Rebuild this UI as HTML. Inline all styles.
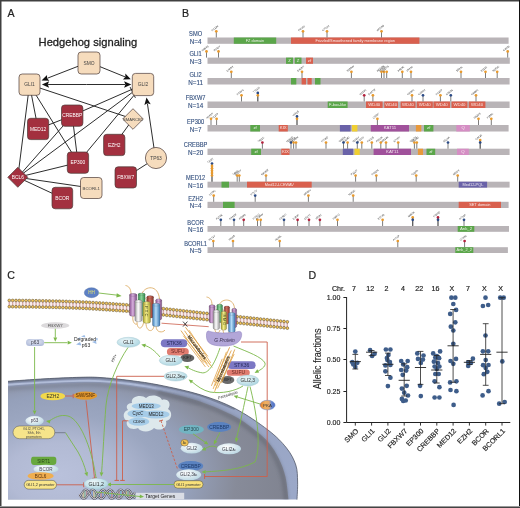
<!DOCTYPE html>
<html><head><meta charset="utf-8"><style>
html,body{margin:0;padding:0;background:#fff;}
body{width:520px;height:508px;overflow:hidden;position:relative;}
svg{position:absolute;left:0;top:0;display:block;font-family:"Liberation Sans", sans-serif;will-change:transform;}
</style></head><body>
<svg width="520" height="508" viewBox="0 0 520 508">
<rect x="0" y="0" width="520" height="508" fill="#fff"/>

<text x="7.4" y="16.6" font-size="10.6" fill="#222" stroke="#222" stroke-width="0.2">A</text>
<text x="182" y="16.9" font-size="10.6" fill="#222" stroke="#222" stroke-width="0.2">B</text>
<text x="7.2" y="278.8" font-size="10.6" fill="#222" stroke="#222" stroke-width="0.2">C</text>
<text x="308.6" y="278.6" font-size="10.6" fill="#222" stroke="#222" stroke-width="0.2">D</text>
<line x1="29.5" y1="84.6" x2="38.1" y2="129" stroke="#222" stroke-width="0.95"/>
<line x1="29.5" y1="84.6" x2="17.8" y2="177.3" stroke="#222" stroke-width="0.95"/>
<line x1="29.5" y1="84.6" x2="78" y2="162.6" stroke="#222" stroke-width="0.95"/>
<line x1="29.5" y1="84.6" x2="133" y2="119" stroke="#222" stroke-width="0.95"/>
<line x1="72.2" y1="115.6" x2="38.1" y2="129" stroke="#222" stroke-width="0.95"/>
<line x1="72.2" y1="115.6" x2="143" y2="84.5" stroke="#222" stroke-width="0.95"/>
<line x1="72.2" y1="115.6" x2="78" y2="162.6" stroke="#222" stroke-width="0.95"/>
<line x1="72.2" y1="115.6" x2="17.8" y2="177.3" stroke="#222" stroke-width="0.95"/>
<line x1="143" y1="84.5" x2="17.8" y2="177.3" stroke="#222" stroke-width="0.95"/>
<line x1="143" y1="84.5" x2="78" y2="162.6" stroke="#222" stroke-width="0.95"/>
<line x1="114.2" y1="145" x2="133" y2="119" stroke="#222" stroke-width="0.95"/>
<line x1="125.8" y1="177.4" x2="156" y2="158" stroke="#222" stroke-width="0.95"/>
<line x1="17.8" y1="177.3" x2="78" y2="162.6" stroke="#222" stroke-width="0.95"/>
<line x1="17.8" y1="177.3" x2="91.2" y2="188" stroke="#222" stroke-width="0.95"/>
<line x1="17.8" y1="177.3" x2="62.3" y2="198" stroke="#222" stroke-width="0.95"/>
<line x1="78" y1="66.3" x2="47.278131825961026" y2="78.25206926222886" stroke="#222" stroke-width="0.95"/>
<path d="M41.50,80.50 L47.05,74.91 L47.00,78.36 L49.37,80.87Z" fill="#111"/>
<line x1="99.6" y1="66.5" x2="125.05751307446026" y2="76.86251333479632" stroke="#222" stroke-width="0.95"/>
<path d="M130.80,79.20 L122.92,79.45 L125.34,76.98 L125.34,73.52Z" fill="#111"/>
<line x1="86.6" y1="84.5" x2="125.10000000000001" y2="84.5" stroke="#222" stroke-width="0.95"/>
<path d="M131.30,84.50 L124.10,87.70 L125.40,84.50 L124.10,81.30Z" fill="#111"/>
<line x1="86.6" y1="84.5" x2="48.1" y2="84.5" stroke="#222" stroke-width="0.95"/>
<path d="M41.90,84.50 L49.10,81.30 L47.80,84.50 L49.10,87.70Z" fill="#111"/>
<line x1="130.1" y1="87.1" x2="135.4" y2="97.8" stroke="#222" stroke-width="0.95"/>
<line x1="154" y1="148" x2="147.41080223627338" y2="103.63273505757418" stroke="#222" stroke-width="0.95"/>
<path d="M146.50,97.50 L150.72,104.15 L147.37,103.34 L144.39,105.09Z" fill="#111"/>
<rect x="78" y="52" width="22" height="22" rx="3.2" fill="#f6dcbd" stroke="#4a3a36" stroke-width="0.7"/>
<text x="89.0" y="64.75" font-size="4.9" fill="#444" text-anchor="middle" font-family="Liberation Sans, sans-serif">SMO</text>
<rect x="19" y="74" width="21" height="21.299999999999997" rx="3.2" fill="#f6dcbd" stroke="#4a3a36" stroke-width="0.7"/>
<text x="29.5" y="86.4" font-size="4.9" fill="#444" text-anchor="middle" font-family="Liberation Sans, sans-serif">GLI1</text>
<rect x="132.3" y="73.4" width="21.399999999999977" height="22.19999999999999" rx="3.2" fill="#f6dcbd" stroke="#4a3a36" stroke-width="0.7"/>
<text x="143.0" y="86.25" font-size="4.9" fill="#444" text-anchor="middle" font-family="Liberation Sans, sans-serif">GLI2</text>
<rect x="61.5" y="105" width="21.400000000000006" height="21.299999999999997" rx="3.2" fill="#a3303f" stroke="#4a3a36" stroke-width="0.7"/>
<text x="72.2" y="117.4" font-size="4.9" fill="#fff" text-anchor="middle" font-family="Liberation Sans, sans-serif">CREBBP</text>
<rect x="27.5" y="118.3" width="21.200000000000003" height="21.299999999999997" rx="3.2" fill="#a3303f" stroke="#4a3a36" stroke-width="0.7"/>
<text x="38.1" y="130.7" font-size="4.9" fill="#fff" text-anchor="middle" font-family="Liberation Sans, sans-serif">MED12</text>
<path d="M122.7,119 L133,108.7 L143.3,119 L133,129.3Z" fill="#f6dcbd" stroke="#4a3a36" stroke-width="0.7" stroke-linejoin="round"/>
<text x="133" y="120.75" font-size="4.2" fill="#444" text-anchor="middle" font-family="Liberation Sans, sans-serif">SMARCB1</text>
<rect x="103.6" y="134.3" width="21.30000000000001" height="21.299999999999983" rx="3.2" fill="#a3303f" stroke="#4a3a36" stroke-width="0.7"/>
<text x="114.25" y="146.7" font-size="4.9" fill="#fff" text-anchor="middle" font-family="Liberation Sans, sans-serif">EZH2</text>
<rect x="67.3" y="152" width="21.299999999999997" height="21.30000000000001" rx="3.2" fill="#a3303f" stroke="#4a3a36" stroke-width="0.7"/>
<text x="77.94999999999999" y="164.4" font-size="4.9" fill="#fff" text-anchor="middle" font-family="Liberation Sans, sans-serif">EP300</text>
<circle cx="156" cy="158" r="10.6" fill="#f6dcbd" stroke="#4a3a36" stroke-width="0.7"/>
<text x="156" y="159.7" font-size="4.9" fill="#444" text-anchor="middle">TP63</text>
<rect x="115" y="166.8" width="21.5" height="21.19999999999999" rx="3.2" fill="#a3303f" stroke="#4a3a36" stroke-width="0.7"/>
<text x="125.75" y="179.15" font-size="4.9" fill="#fff" text-anchor="middle" font-family="Liberation Sans, sans-serif">FBXW7</text>
<path d="M7.800000000000001,177.3 L17.8,167.3 L27.8,177.3 L17.8,187.3Z" fill="#a3303f" stroke="#4a3a36" stroke-width="0.7" stroke-linejoin="round"/>
<text x="17.8" y="179.05" font-size="4.9" fill="#fff" text-anchor="middle" font-family="Liberation Sans, sans-serif">BCL6</text>
<rect x="80.5" y="177.5" width="21.5" height="21.0" rx="3.2" fill="#f6dcbd" stroke="#4a3a36" stroke-width="0.7"/>
<text x="91.25" y="189.75" font-size="4.4" fill="#444" text-anchor="middle" font-family="Liberation Sans, sans-serif">BCORL1</text>
<rect x="52" y="187.3" width="20.700000000000003" height="21.5" rx="3.2" fill="#a3303f" stroke="#4a3a36" stroke-width="0.7"/>
<text x="62.35" y="199.8" font-size="4.9" fill="#fff" text-anchor="middle" font-family="Liberation Sans, sans-serif">BCOR</text>
<text x="38.6" y="45.9" font-size="11.2" fill="#222" stroke="#222" stroke-width="0.3" textLength="98.6" lengthAdjust="spacingAndGlyphs">Hedgehog signaling</text>
<text transform="translate(195.6,36.20) scale(0.88,1)" font-size="6.5" fill="#34507f" stroke="#34507f" stroke-width="0.12" text-anchor="middle">SMO</text>
<text x="195.6" y="43.90" font-size="6.3" fill="#34507f" stroke="#34507f" stroke-width="0.12" text-anchor="middle">N=4</text>
<rect x="207.5" y="37.5" width="301.10" height="6.30" fill="#b9b4b7"/>
<rect x="233.8" y="37.5" width="42.40" height="6.30" fill="#5ba64a"/>
<text x="255.00" y="41.85" font-size="3.9" fill="#f8f4f4" text-anchor="middle" opacity="0.92">FZ domain</text>
<rect x="291" y="37.5" width="128.40" height="6.30" fill="#d9604e"/>
<text x="355.20" y="41.85" font-size="3.9" fill="#f8f4f4" text-anchor="middle" opacity="0.92">Frizzled/Smoothened family membrane region</text>
<line x1="216.3" y1="31.30" x2="216.3" y2="37.5" stroke="#5a5a5a" stroke-width="0.8"/>
<circle cx="216.3" cy="31.30" r="1.35" fill="#e99a2c"/>
<text transform="translate(212.30,31.40) rotate(-38)" font-size="2.6" fill="#2a2a2a">R211N</text>
<line x1="303" y1="31.30" x2="303" y2="37.5" stroke="#5a5a5a" stroke-width="0.8"/>
<circle cx="303" cy="31.30" r="1.35" fill="#e99a2c"/>
<text transform="translate(299.00,31.40) rotate(-38)" font-size="2.6" fill="#2a2a2a">P439V</text>
<line x1="327" y1="31.30" x2="327" y2="37.5" stroke="#5a5a5a" stroke-width="0.8"/>
<circle cx="327" cy="31.30" r="1.35" fill="#e99a2c"/>
<text transform="translate(323.00,31.40) rotate(-38)" font-size="2.6" fill="#2a2a2a">C751H</text>
<line x1="381.5" y1="31.30" x2="381.5" y2="37.5" stroke="#5a5a5a" stroke-width="0.8"/>
<circle cx="381.5" cy="31.30" r="1.35" fill="#e99a2c"/>
<text transform="translate(377.50,31.40) rotate(-38)" font-size="2.6" fill="#2a2a2a">W559N</text>
<text transform="translate(195.6,56.30) scale(0.88,1)" font-size="6.5" fill="#34507f" stroke="#34507f" stroke-width="0.12" text-anchor="middle">GLI1</text>
<text x="195.6" y="63.90" font-size="6.3" fill="#34507f" stroke="#34507f" stroke-width="0.12" text-anchor="middle">N=3</text>
<rect x="207.5" y="57.6" width="302.30" height="6.20" fill="#b9b4b7"/>
<rect x="286" y="57.6" width="7.00" height="6.20" fill="#5ba64a"/>
<text x="289.50" y="61.90" font-size="4.3" fill="#f8f4f4" text-anchor="middle" opacity="0.92">Z</text>
<rect x="294.8" y="57.6" width="6.70" height="6.20" fill="#5ba64a"/>
<text x="298.15" y="61.90" font-size="4.3" fill="#f8f4f4" text-anchor="middle" opacity="0.92">Z</text>
<rect x="306" y="57.6" width="7.00" height="6.20" fill="#d9604e"/>
<text x="309.50" y="61.90" font-size="4.3" fill="#f8f4f4" text-anchor="middle" opacity="0.92">zf</text>
<line x1="206.5" y1="51.40" x2="206.5" y2="57.6" stroke="#5a5a5a" stroke-width="0.8"/>
<circle cx="206.5" cy="51.40" r="1.35" fill="#e99a2c"/>
<text transform="translate(202.50,51.50) rotate(-38)" font-size="2.6" fill="#2a2a2a">H984S</text>
<line x1="218.5" y1="51.40" x2="218.5" y2="57.6" stroke="#5a5a5a" stroke-width="0.8"/>
<circle cx="218.5" cy="51.40" r="1.35" fill="#e99a2c"/>
<text transform="translate(214.50,51.50) rotate(-38)" font-size="2.6" fill="#2a2a2a">P240Y</text>
<line x1="507.7" y1="51.40" x2="507.7" y2="57.6" stroke="#5a5a5a" stroke-width="0.8"/>
<circle cx="507.7" cy="51.40" r="1.35" fill="#e99a2c"/>
<text transform="translate(503.70,51.50) rotate(-38)" font-size="2.6" fill="#2a2a2a">C400E</text>
<text transform="translate(195.6,76.70) scale(0.88,1)" font-size="6.5" fill="#34507f" stroke="#34507f" stroke-width="0.12" text-anchor="middle">GLI2</text>
<text x="195.6" y="84.60" font-size="6.3" fill="#34507f" stroke="#34507f" stroke-width="0.12" text-anchor="middle">N=11</text>
<rect x="207.5" y="78" width="302.10" height="6.50" fill="#b9b4b7"/>
<rect x="291" y="78" width="5.30" height="6.50" fill="#5ba64a"/>
<rect x="301.6" y="78" width="4.40" height="6.50" fill="#d9604e"/>
<rect x="307.5" y="78" width="4.20" height="6.50" fill="#d9604e"/>
<rect x="315" y="78" width="5.50" height="6.50" fill="#5ba64a"/>
<line x1="231.3" y1="71.80" x2="231.3" y2="78" stroke="#5a5a5a" stroke-width="0.8"/>
<circle cx="231.3" cy="71.80" r="1.35" fill="#e99a2c"/>
<text transform="translate(227.30,71.90) rotate(-38)" font-size="2.6" fill="#2a2a2a">E406H</text>
<line x1="302" y1="71.80" x2="302" y2="78" stroke="#5a5a5a" stroke-width="0.8"/>
<circle cx="302" cy="71.80" r="1.35" fill="#e99a2c"/>
<text transform="translate(298.00,71.90) rotate(-38)" font-size="2.6" fill="#2a2a2a">D426R</text>
<line x1="351.4" y1="71.80" x2="351.4" y2="78" stroke="#5a5a5a" stroke-width="0.8"/>
<circle cx="351.4" cy="71.80" r="1.35" fill="#e99a2c"/>
<text transform="translate(347.40,71.90) rotate(-38)" font-size="2.6" fill="#2a2a2a">S168W</text>
<line x1="381.5" y1="71.80" x2="381.5" y2="78" stroke="#5a5a5a" stroke-width="0.8"/>
<circle cx="381.5" cy="71.80" r="1.35" fill="#e99a2c"/>
<text transform="translate(377.50,71.90) rotate(-38)" font-size="2.6" fill="#2a2a2a">W559N</text>
<line x1="384" y1="71.80" x2="384" y2="78" stroke="#5a5a5a" stroke-width="0.8"/>
<circle cx="384" cy="71.80" r="1.35" fill="#e99a2c"/>
<text transform="translate(380.00,71.90) rotate(-38)" font-size="2.6" fill="#2a2a2a">A592A</text>
<line x1="386.7" y1="71.80" x2="386.7" y2="78" stroke="#5a5a5a" stroke-width="0.8"/>
<circle cx="386.7" cy="71.80" r="1.35" fill="#e99a2c"/>
<text transform="translate(382.70,71.90) rotate(-38)" font-size="2.6" fill="#2a2a2a">D627N</text>
<line x1="402.3" y1="71.80" x2="402.3" y2="78" stroke="#5a5a5a" stroke-width="0.8"/>
<circle cx="402.3" cy="71.80" r="1.35" fill="#e99a2c"/>
<text transform="translate(398.30,71.90) rotate(-38)" font-size="2.6" fill="#2a2a2a">A829K</text>
<line x1="411" y1="71.80" x2="411" y2="78" stroke="#5a5a5a" stroke-width="0.8"/>
<circle cx="411" cy="71.80" r="1.35" fill="#e99a2c"/>
<text transform="translate(407.00,71.90) rotate(-38)" font-size="2.6" fill="#2a2a2a">V943C</text>
<line x1="461" y1="71.80" x2="461" y2="78" stroke="#5a5a5a" stroke-width="0.8"/>
<circle cx="461" cy="71.80" r="1.35" fill="#e99a2c"/>
<text transform="translate(457.00,71.90) rotate(-38)" font-size="2.6" fill="#2a2a2a">S693L</text>
<line x1="485.5" y1="71.80" x2="485.5" y2="78" stroke="#5a5a5a" stroke-width="0.8"/>
<circle cx="485.5" cy="71.80" r="1.35" fill="#e99a2c"/>
<text transform="translate(481.50,71.90) rotate(-38)" font-size="2.6" fill="#2a2a2a">K111A</text>
<line x1="497.2" y1="71.80" x2="497.2" y2="78" stroke="#5a5a5a" stroke-width="0.8"/>
<circle cx="497.2" cy="71.80" r="1.35" fill="#e99a2c"/>
<text transform="translate(493.20,71.90) rotate(-38)" font-size="2.6" fill="#2a2a2a">N263E</text>
<text transform="translate(195.6,100.20) scale(0.88,1)" font-size="6.5" fill="#34507f" stroke="#34507f" stroke-width="0.12" text-anchor="middle">FBXW7</text>
<text x="195.6" y="108.10" font-size="6.3" fill="#34507f" stroke="#34507f" stroke-width="0.12" text-anchor="middle">N=14</text>
<rect x="207.5" y="101.5" width="302.10" height="6.50" fill="#b9b4b7"/>
<rect x="327.7" y="101.5" width="19.90" height="6.50" fill="#5ba64a"/>
<text x="337.65" y="105.95" font-size="3.9" fill="#f8f4f4" text-anchor="middle" opacity="0.92">F-box-like</text>
<rect x="366" y="101.5" width="16.60" height="6.50" fill="#d9604e"/>
<text x="374.30" y="105.95" font-size="4.3" fill="#f8f4f4" text-anchor="middle" opacity="0.92">WD40</text>
<rect x="384.3" y="101.5" width="13.70" height="6.50" fill="#d9604e"/>
<text x="391.15" y="105.95" font-size="4.3" fill="#f8f4f4" text-anchor="middle" opacity="0.92">WD40</text>
<rect x="400.6" y="101.5" width="14.90" height="6.50" fill="#d9604e"/>
<text x="408.05" y="105.95" font-size="4.3" fill="#f8f4f4" text-anchor="middle" opacity="0.92">WD40</text>
<rect x="416.8" y="101.5" width="16.00" height="6.50" fill="#d9604e"/>
<text x="424.80" y="105.95" font-size="4.3" fill="#f8f4f4" text-anchor="middle" opacity="0.92">WD40</text>
<rect x="433.5" y="101.5" width="16.50" height="6.50" fill="#d9604e"/>
<text x="441.75" y="105.95" font-size="4.3" fill="#f8f4f4" text-anchor="middle" opacity="0.92">WD40</text>
<rect x="451.5" y="101.5" width="15.90" height="6.50" fill="#d9604e"/>
<text x="459.45" y="105.95" font-size="4.3" fill="#f8f4f4" text-anchor="middle" opacity="0.92">WD40</text>
<rect x="468.8" y="101.5" width="16.60" height="6.50" fill="#d9604e"/>
<text x="477.10" y="105.95" font-size="4.3" fill="#f8f4f4" text-anchor="middle" opacity="0.92">WD40</text>
<line x1="241.5" y1="95.30" x2="241.5" y2="101.5" stroke="#5a5a5a" stroke-width="0.8"/>
<circle cx="241.5" cy="95.30" r="1.35" fill="#e99a2c"/>
<text transform="translate(237.50,95.40) rotate(-38)" font-size="2.6" fill="#2a2a2a">R539G</text>
<line x1="257.8" y1="92.90" x2="257.8" y2="101.5" stroke="#5a5a5a" stroke-width="1.3"/>
<circle cx="257.8" cy="92.90" r="1.35" fill="#2a4a86"/>
<circle cx="257.8" cy="95.30" r="1.35" fill="#e99a2c"/>
<text transform="translate(253.80,93.00) rotate(-38)" font-size="2.6" fill="#2a2a2a">T751H</text>
<line x1="364.2" y1="95.30" x2="364.2" y2="101.5" stroke="#5a5a5a" stroke-width="0.8"/>
<circle cx="364.2" cy="95.30" r="1.35" fill="#b4203c"/>
<text transform="translate(360.20,95.40) rotate(-38)" font-size="2.6" fill="#2a2a2a">H334G</text>
<line x1="372.9" y1="95.30" x2="372.9" y2="101.5" stroke="#5a5a5a" stroke-width="0.8"/>
<circle cx="372.9" cy="95.30" r="1.35" fill="#e99a2c"/>
<text transform="translate(368.90,95.40) rotate(-38)" font-size="2.6" fill="#2a2a2a">D447W</text>
<line x1="412" y1="95.30" x2="412" y2="101.5" stroke="#5a5a5a" stroke-width="0.8"/>
<circle cx="412" cy="95.30" r="1.35" fill="#e99a2c"/>
<text transform="translate(408.00,95.40) rotate(-38)" font-size="2.6" fill="#2a2a2a">G956G</text>
<line x1="423" y1="95.30" x2="423" y2="101.5" stroke="#5a5a5a" stroke-width="0.8"/>
<circle cx="423" cy="95.30" r="1.35" fill="#2a4a86"/>
<text transform="translate(419.00,95.40) rotate(-38)" font-size="2.6" fill="#2a2a2a">C199H</text>
<line x1="440.4" y1="95.30" x2="440.4" y2="101.5" stroke="#5a5a5a" stroke-width="0.8"/>
<circle cx="440.4" cy="95.30" r="1.35" fill="#e99a2c"/>
<text transform="translate(436.40,95.40) rotate(-38)" font-size="2.6" fill="#2a2a2a">R425P</text>
<line x1="450.8" y1="95.30" x2="450.8" y2="101.5" stroke="#5a5a5a" stroke-width="0.8"/>
<circle cx="450.8" cy="95.30" r="1.35" fill="#2a4a86"/>
<text transform="translate(446.80,95.40) rotate(-38)" font-size="2.6" fill="#2a2a2a">E560N</text>
<line x1="476" y1="95.30" x2="476" y2="101.5" stroke="#5a5a5a" stroke-width="0.8"/>
<circle cx="476" cy="95.30" r="1.35" fill="#e99a2c"/>
<text transform="translate(472.00,95.40) rotate(-38)" font-size="2.6" fill="#2a2a2a">G888G</text>
<text transform="translate(195.6,123.70) scale(0.88,1)" font-size="6.5" fill="#34507f" stroke="#34507f" stroke-width="0.12" text-anchor="middle">EP300</text>
<text x="195.6" y="131.60" font-size="6.3" fill="#34507f" stroke="#34507f" stroke-width="0.12" text-anchor="middle">N=7</text>
<rect x="207.5" y="125" width="301.10" height="6.50" fill="#b9b4b7"/>
<rect x="250.3" y="125" width="9.70" height="6.50" fill="#5ba64a"/>
<text x="255.15" y="129.45" font-size="4.3" fill="#f8f4f4" text-anchor="middle" opacity="0.92">zf</text>
<rect x="278.7" y="125" width="9.10" height="6.50" fill="#d9604e"/>
<text x="283.25" y="129.45" font-size="4.3" fill="#f8f4f4" text-anchor="middle" opacity="0.92">KIX</text>
<rect x="339.9" y="125" width="10.70" height="6.50" fill="#6a62a8"/>
<rect x="352" y="125" width="5.40" height="6.50" fill="#f0cf32"/>
<rect x="370.8" y="125" width="38.20" height="6.50" fill="#a0519b"/>
<text x="389.90" y="129.45" font-size="4.3" fill="#f8f4f4" text-anchor="middle" opacity="0.92">KAT11</text>
<rect x="415.9" y="125" width="5.40" height="6.50" fill="#e8993c"/>
<rect x="424" y="125" width="9.40" height="6.50" fill="#5ba64a"/>
<text x="428.70" y="129.45" font-size="4.3" fill="#f8f4f4" text-anchor="middle" opacity="0.92">zf</text>
<rect x="456.3" y="125" width="13.50" height="6.50" fill="#d58ec4"/>
<text x="463.05" y="129.45" font-size="4.3" fill="#f8f4f4" text-anchor="middle" opacity="0.92">Q</text>
<line x1="211" y1="118.80" x2="211" y2="125" stroke="#5a5a5a" stroke-width="0.8"/>
<circle cx="211" cy="118.80" r="1.35" fill="#e99a2c"/>
<text transform="translate(207.00,118.90) rotate(-38)" font-size="2.6" fill="#2a2a2a">H143P</text>
<line x1="216.6" y1="118.80" x2="216.6" y2="125" stroke="#5a5a5a" stroke-width="0.8"/>
<circle cx="216.6" cy="118.80" r="1.35" fill="#e99a2c"/>
<text transform="translate(212.60,118.90) rotate(-38)" font-size="2.6" fill="#2a2a2a">T215P</text>
<line x1="297" y1="116.40" x2="297" y2="125" stroke="#5a5a5a" stroke-width="1.3"/>
<circle cx="297" cy="116.40" r="1.35" fill="#2a4a86"/>
<circle cx="297" cy="118.80" r="1.35" fill="#e99a2c"/>
<text transform="translate(293.00,116.50) rotate(-38)" font-size="2.6" fill="#2a2a2a">Y361S</text>
<line x1="377.4" y1="118.80" x2="377.4" y2="125" stroke="#5a5a5a" stroke-width="0.8"/>
<circle cx="377.4" cy="118.80" r="1.35" fill="#e99a2c"/>
<text transform="translate(373.40,118.90) rotate(-38)" font-size="2.6" fill="#2a2a2a">C506T</text>
<line x1="478.5" y1="118.80" x2="478.5" y2="125" stroke="#5a5a5a" stroke-width="0.8"/>
<circle cx="478.5" cy="118.80" r="1.35" fill="#e99a2c"/>
<text transform="translate(474.50,118.90) rotate(-38)" font-size="2.6" fill="#2a2a2a">H920S</text>
<line x1="491.3" y1="118.80" x2="491.3" y2="125" stroke="#5a5a5a" stroke-width="0.8"/>
<circle cx="491.3" cy="118.80" r="1.35" fill="#e99a2c"/>
<text transform="translate(487.30,118.90) rotate(-38)" font-size="2.6" fill="#2a2a2a">Y186C</text>
<text transform="translate(195.6,147.40) scale(0.88,1)" font-size="6.5" fill="#34507f" stroke="#34507f" stroke-width="0.12" text-anchor="middle">CREBBP</text>
<text x="195.6" y="155.10" font-size="6.3" fill="#34507f" stroke="#34507f" stroke-width="0.12" text-anchor="middle">N=20</text>
<rect x="207.5" y="148.7" width="302.10" height="6.30" fill="#b9b4b7"/>
<rect x="251.2" y="148.7" width="9.80" height="6.30" fill="#5ba64a"/>
<text x="256.10" y="153.05" font-size="4.3" fill="#f8f4f4" text-anchor="middle" opacity="0.92">zf</text>
<rect x="281.3" y="148.7" width="8.20" height="6.30" fill="#d9604e"/>
<text x="285.40" y="153.05" font-size="4.3" fill="#f8f4f4" text-anchor="middle" opacity="0.92">KIX</text>
<rect x="342.8" y="148.7" width="10.40" height="6.30" fill="#6a62a8"/>
<rect x="354.5" y="148.7" width="5.20" height="6.30" fill="#f0cf32"/>
<rect x="373.6" y="148.7" width="37.40" height="6.30" fill="#a0519b"/>
<text x="392.30" y="153.05" font-size="4.3" fill="#f8f4f4" text-anchor="middle" opacity="0.92">KAT11</text>
<rect x="417.9" y="148.7" width="5.10" height="6.30" fill="#e8993c"/>
<rect x="426.5" y="148.7" width="8.70" height="6.30" fill="#5ba64a"/>
<text x="430.85" y="153.05" font-size="4.3" fill="#f8f4f4" text-anchor="middle" opacity="0.92">zf</text>
<rect x="457" y="148.7" width="11.80" height="6.30" fill="#d58ec4"/>
<text x="462.90" y="153.05" font-size="4.3" fill="#f8f4f4" text-anchor="middle" opacity="0.92">Q</text>
<line x1="262.4" y1="142.50" x2="262.4" y2="148.7" stroke="#5a5a5a" stroke-width="0.8"/>
<circle cx="262.4" cy="142.50" r="1.35" fill="#b4203c"/>
<text transform="translate(258.40,142.60) rotate(-38)" font-size="2.6" fill="#2a2a2a">T811E</text>
<line x1="291" y1="142.50" x2="291" y2="148.7" stroke="#5a5a5a" stroke-width="0.8"/>
<circle cx="291" cy="142.50" r="1.35" fill="#2a4a86"/>
<text transform="translate(287.00,142.60) rotate(-38)" font-size="2.6" fill="#2a2a2a">H283P</text>
<line x1="293.6" y1="142.50" x2="293.6" y2="148.7" stroke="#5a5a5a" stroke-width="0.8"/>
<circle cx="293.6" cy="142.50" r="1.35" fill="#e99a2c"/>
<text transform="translate(289.60,142.60) rotate(-38)" font-size="2.6" fill="#2a2a2a">L316A</text>
<line x1="296" y1="142.50" x2="296" y2="148.7" stroke="#5a5a5a" stroke-width="0.8"/>
<circle cx="296" cy="142.50" r="1.35" fill="#e99a2c"/>
<text transform="translate(292.00,142.60) rotate(-38)" font-size="2.6" fill="#2a2a2a">N348N</text>
<line x1="326" y1="142.50" x2="326" y2="148.7" stroke="#5a5a5a" stroke-width="0.8"/>
<circle cx="326" cy="142.50" r="1.35" fill="#e99a2c"/>
<text transform="translate(322.00,142.60) rotate(-38)" font-size="2.6" fill="#2a2a2a">R738D</text>
<line x1="343.5" y1="142.50" x2="343.5" y2="148.7" stroke="#5a5a5a" stroke-width="0.8"/>
<circle cx="343.5" cy="142.50" r="1.35" fill="#2a4a86"/>
<text transform="translate(339.50,142.60) rotate(-38)" font-size="2.6" fill="#2a2a2a">G965K</text>
<line x1="347.6" y1="142.50" x2="347.6" y2="148.7" stroke="#5a5a5a" stroke-width="0.8"/>
<circle cx="347.6" cy="142.50" r="1.35" fill="#e99a2c"/>
<text transform="translate(343.60,142.60) rotate(-38)" font-size="2.6" fill="#2a2a2a">C118D</text>
<line x1="357.3" y1="142.50" x2="357.3" y2="148.7" stroke="#5a5a5a" stroke-width="0.8"/>
<circle cx="357.3" cy="142.50" r="1.35" fill="#2a4a86"/>
<text transform="translate(353.30,142.60) rotate(-38)" font-size="2.6" fill="#2a2a2a">H244Y</text>
<line x1="361.8" y1="142.50" x2="361.8" y2="148.7" stroke="#5a5a5a" stroke-width="0.8"/>
<circle cx="361.8" cy="142.50" r="1.35" fill="#e99a2c"/>
<text transform="translate(357.80,142.60) rotate(-38)" font-size="2.6" fill="#2a2a2a">G303V</text>
<line x1="371.8" y1="142.50" x2="371.8" y2="148.7" stroke="#5a5a5a" stroke-width="0.8"/>
<circle cx="371.8" cy="142.50" r="1.35" fill="#e99a2c"/>
<text transform="translate(367.80,142.60) rotate(-38)" font-size="2.6" fill="#2a2a2a">R433S</text>
<line x1="380.8" y1="142.50" x2="380.8" y2="148.7" stroke="#5a5a5a" stroke-width="0.8"/>
<circle cx="380.8" cy="142.50" r="1.35" fill="#e99a2c"/>
<text transform="translate(376.80,142.60) rotate(-38)" font-size="2.6" fill="#2a2a2a">P550K</text>
<line x1="386" y1="142.50" x2="386" y2="148.7" stroke="#5a5a5a" stroke-width="0.8"/>
<circle cx="386" cy="142.50" r="1.35" fill="#e99a2c"/>
<text transform="translate(382.00,142.60) rotate(-38)" font-size="2.6" fill="#2a2a2a">W618K</text>
<line x1="398.2" y1="142.50" x2="398.2" y2="148.7" stroke="#5a5a5a" stroke-width="0.8"/>
<circle cx="398.2" cy="142.50" r="1.35" fill="#e99a2c"/>
<text transform="translate(394.20,142.60) rotate(-38)" font-size="2.6" fill="#2a2a2a">E776R</text>
<line x1="414.4" y1="142.50" x2="414.4" y2="148.7" stroke="#5a5a5a" stroke-width="0.8"/>
<circle cx="414.4" cy="142.50" r="1.35" fill="#e99a2c"/>
<text transform="translate(410.40,142.60) rotate(-38)" font-size="2.6" fill="#2a2a2a">G987S</text>
<line x1="416.8" y1="142.50" x2="416.8" y2="148.7" stroke="#5a5a5a" stroke-width="0.8"/>
<circle cx="416.8" cy="142.50" r="1.35" fill="#e99a2c"/>
<text transform="translate(412.80,142.60) rotate(-38)" font-size="2.6" fill="#2a2a2a">H118D</text>
<line x1="448" y1="142.50" x2="448" y2="148.7" stroke="#5a5a5a" stroke-width="0.8"/>
<circle cx="448" cy="142.50" r="1.35" fill="#2a4a86"/>
<text transform="translate(444.00,142.60) rotate(-38)" font-size="2.6" fill="#2a2a2a">A524A</text>
<line x1="480.2" y1="140.10" x2="480.2" y2="148.7" stroke="#5a5a5a" stroke-width="1.3"/>
<circle cx="480.2" cy="140.10" r="1.35" fill="#e99a2c"/>
<circle cx="480.2" cy="142.50" r="1.35" fill="#2a4a86"/>
<text transform="translate(476.20,140.20) rotate(-38)" font-size="2.6" fill="#2a2a2a">C942A</text>
<text transform="translate(195.6,180.40) scale(0.88,1)" font-size="6.5" fill="#34507f" stroke="#34507f" stroke-width="0.12" text-anchor="middle">MED12</text>
<text x="195.6" y="187.70" font-size="6.3" fill="#34507f" stroke="#34507f" stroke-width="0.12" text-anchor="middle">N=16</text>
<rect x="207.5" y="181.7" width="302.10" height="5.90" fill="#b9b4b7"/>
<rect x="221.5" y="181.7" width="7.50" height="5.90" fill="#5ba64a"/>
<rect x="247" y="181.7" width="64.70" height="5.90" fill="#d9604e"/>
<text x="279.35" y="185.85" font-size="3.9" fill="#f8f4f4" text-anchor="middle" opacity="0.92">Med12-LCEWAV</text>
<rect x="458.7" y="181.7" width="28.40" height="5.90" fill="#6a62a8"/>
<text x="472.90" y="185.85" font-size="3.9" fill="#f8f4f4" text-anchor="middle" opacity="0.92">Med12-PQL</text>
<line x1="212" y1="163.50" x2="212" y2="181.7" stroke="#5a5a5a" stroke-width="1.3"/>
<circle cx="212" cy="163.50" r="1.35" fill="#2a4a86"/>
<circle cx="212" cy="165.90" r="1.35" fill="#e99a2c"/>
<circle cx="212" cy="168.30" r="1.35" fill="#e99a2c"/>
<circle cx="212" cy="170.70" r="1.35" fill="#e99a2c"/>
<circle cx="212" cy="173.10" r="1.35" fill="#e99a2c"/>
<circle cx="212" cy="175.50" r="1.35" fill="#e99a2c"/>
<text transform="translate(208.00,163.60) rotate(-38)" font-size="2.6" fill="#2a2a2a">T156T</text>
<line x1="237.2" y1="175.50" x2="237.2" y2="181.7" stroke="#5a5a5a" stroke-width="0.8"/>
<circle cx="237.2" cy="175.50" r="1.35" fill="#e99a2c"/>
<text transform="translate(233.20,175.60) rotate(-38)" font-size="2.6" fill="#2a2a2a">T483L</text>
<line x1="239.3" y1="175.50" x2="239.3" y2="181.7" stroke="#5a5a5a" stroke-width="0.8"/>
<circle cx="239.3" cy="175.50" r="1.35" fill="#e99a2c"/>
<text transform="translate(235.30,175.60) rotate(-38)" font-size="2.6" fill="#2a2a2a">S510V</text>
<line x1="266" y1="175.50" x2="266" y2="181.7" stroke="#5a5a5a" stroke-width="0.8"/>
<circle cx="266" cy="175.50" r="1.35" fill="#e99a2c"/>
<text transform="translate(262.00,175.60) rotate(-38)" font-size="2.6" fill="#2a2a2a">K858W</text>
<line x1="355.6" y1="175.50" x2="355.6" y2="181.7" stroke="#5a5a5a" stroke-width="0.8"/>
<circle cx="355.6" cy="175.50" r="1.35" fill="#e99a2c"/>
<text transform="translate(351.60,175.60) rotate(-38)" font-size="2.6" fill="#2a2a2a">P222R</text>
<line x1="376.3" y1="175.50" x2="376.3" y2="181.7" stroke="#5a5a5a" stroke-width="0.8"/>
<circle cx="376.3" cy="175.50" r="1.35" fill="#e99a2c"/>
<text transform="translate(372.30,175.60) rotate(-38)" font-size="2.6" fill="#2a2a2a">R491N</text>
<line x1="416.2" y1="175.50" x2="416.2" y2="181.7" stroke="#5a5a5a" stroke-width="0.8"/>
<circle cx="416.2" cy="175.50" r="1.35" fill="#e99a2c"/>
<text transform="translate(412.20,175.60) rotate(-38)" font-size="2.6" fill="#2a2a2a">C110A</text>
<line x1="457.7" y1="175.50" x2="457.7" y2="181.7" stroke="#5a5a5a" stroke-width="0.8"/>
<circle cx="457.7" cy="175.50" r="1.35" fill="#e99a2c"/>
<text transform="translate(453.70,175.60) rotate(-38)" font-size="2.6" fill="#2a2a2a">E650V</text>
<text transform="translate(195.6,200.50) scale(0.88,1)" font-size="6.5" fill="#34507f" stroke="#34507f" stroke-width="0.12" text-anchor="middle">EZH2</text>
<text x="195.6" y="208.10" font-size="6.3" fill="#34507f" stroke="#34507f" stroke-width="0.12" text-anchor="middle">N=4</text>
<rect x="207.5" y="201.8" width="301.10" height="6.20" fill="#b9b4b7"/>
<rect x="223" y="201.8" width="11.60" height="6.20" fill="#5ba64a"/>
<rect x="458.7" y="201.8" width="42.30" height="6.20" fill="#d9604e"/>
<text x="479.85" y="206.10" font-size="3.9" fill="#f8f4f4" text-anchor="middle" opacity="0.92">SET domain</text>
<line x1="213.7" y1="195.60" x2="213.7" y2="201.8" stroke="#5a5a5a" stroke-width="0.8"/>
<circle cx="213.7" cy="195.60" r="1.35" fill="#e99a2c"/>
<text transform="translate(209.70,195.70) rotate(-38)" font-size="2.6" fill="#2a2a2a">L178C</text>
<line x1="255.2" y1="195.60" x2="255.2" y2="201.8" stroke="#5a5a5a" stroke-width="0.8"/>
<circle cx="255.2" cy="195.60" r="1.35" fill="#2a4a86"/>
<text transform="translate(251.20,195.70) rotate(-38)" font-size="2.6" fill="#2a2a2a">R717V</text>
<line x1="308.4" y1="195.60" x2="308.4" y2="201.8" stroke="#5a5a5a" stroke-width="0.8"/>
<circle cx="308.4" cy="195.60" r="1.35" fill="#e99a2c"/>
<text transform="translate(304.40,195.70) rotate(-38)" font-size="2.6" fill="#2a2a2a">W509V</text>
<line x1="353.2" y1="195.60" x2="353.2" y2="201.8" stroke="#5a5a5a" stroke-width="0.8"/>
<circle cx="353.2" cy="195.60" r="1.35" fill="#e99a2c"/>
<text transform="translate(349.20,195.70) rotate(-38)" font-size="2.6" fill="#2a2a2a">N191E</text>
<text transform="translate(195.6,224.70) scale(0.88,1)" font-size="6.5" fill="#34507f" stroke="#34507f" stroke-width="0.12" text-anchor="middle">BCOR</text>
<text x="195.6" y="231.90" font-size="6.3" fill="#34507f" stroke="#34507f" stroke-width="0.12" text-anchor="middle">N=16</text>
<rect x="207.5" y="226" width="301.50" height="5.80" fill="#b9b4b7"/>
<rect x="457.7" y="226" width="16.60" height="5.80" fill="#5ba64a"/>
<text x="466.00" y="230.10" font-size="4.3" fill="#f8f4f4" text-anchor="middle" opacity="0.92">Ank_2</text>
<line x1="220.8" y1="219.80" x2="220.8" y2="226" stroke="#5a5a5a" stroke-width="0.8"/>
<circle cx="220.8" cy="219.80" r="1.35" fill="#2a4a86"/>
<text transform="translate(216.80,219.90) rotate(-38)" font-size="2.6" fill="#2a2a2a">P270K</text>
<line x1="234" y1="219.80" x2="234" y2="226" stroke="#5a5a5a" stroke-width="0.8"/>
<circle cx="234" cy="219.80" r="1.35" fill="#2a4a86"/>
<text transform="translate(230.00,219.90) rotate(-38)" font-size="2.6" fill="#2a2a2a">K442W</text>
<line x1="243.7" y1="219.80" x2="243.7" y2="226" stroke="#5a5a5a" stroke-width="0.8"/>
<circle cx="243.7" cy="219.80" r="1.35" fill="#b4203c"/>
<text transform="translate(239.70,219.90) rotate(-38)" font-size="2.6" fill="#2a2a2a">P568S</text>
<line x1="257.5" y1="219.80" x2="257.5" y2="226" stroke="#5a5a5a" stroke-width="0.8"/>
<circle cx="257.5" cy="219.80" r="1.35" fill="#e99a2c"/>
<text transform="translate(253.50,219.90) rotate(-38)" font-size="2.6" fill="#2a2a2a">R747G</text>
<line x1="260.7" y1="219.80" x2="260.7" y2="226" stroke="#5a5a5a" stroke-width="0.8"/>
<circle cx="260.7" cy="219.80" r="1.35" fill="#e99a2c"/>
<text transform="translate(256.70,219.90) rotate(-38)" font-size="2.6" fill="#2a2a2a">A789W</text>
<line x1="284" y1="219.80" x2="284" y2="226" stroke="#5a5a5a" stroke-width="0.8"/>
<circle cx="284" cy="219.80" r="1.35" fill="#2a4a86"/>
<text transform="translate(280.00,219.90) rotate(-38)" font-size="2.6" fill="#2a2a2a">G192G</text>
<line x1="297.6" y1="219.80" x2="297.6" y2="226" stroke="#5a5a5a" stroke-width="0.8"/>
<circle cx="297.6" cy="219.80" r="1.35" fill="#b4203c"/>
<text transform="translate(293.60,219.90) rotate(-38)" font-size="2.6" fill="#2a2a2a">E368T</text>
<line x1="309" y1="219.80" x2="309" y2="226" stroke="#5a5a5a" stroke-width="0.8"/>
<circle cx="309" cy="219.80" r="1.35" fill="#b4203c"/>
<text transform="translate(305.00,219.90) rotate(-38)" font-size="2.6" fill="#2a2a2a">E517Y</text>
<line x1="319.9" y1="219.80" x2="319.9" y2="226" stroke="#5a5a5a" stroke-width="0.8"/>
<circle cx="319.9" cy="219.80" r="1.35" fill="#b4203c"/>
<text transform="translate(315.90,219.90) rotate(-38)" font-size="2.6" fill="#2a2a2a">Y658Y</text>
<line x1="337.5" y1="219.80" x2="337.5" y2="226" stroke="#5a5a5a" stroke-width="0.8"/>
<circle cx="337.5" cy="219.80" r="1.35" fill="#e99a2c"/>
<text transform="translate(333.50,219.90) rotate(-38)" font-size="2.6" fill="#2a2a2a">R887G</text>
<line x1="382.6" y1="219.80" x2="382.6" y2="226" stroke="#5a5a5a" stroke-width="0.8"/>
<circle cx="382.6" cy="219.80" r="1.35" fill="#e99a2c"/>
<text transform="translate(378.60,219.90) rotate(-38)" font-size="2.6" fill="#2a2a2a">K573S</text>
<line x1="412.7" y1="217.40" x2="412.7" y2="226" stroke="#5a5a5a" stroke-width="1.3"/>
<circle cx="412.7" cy="217.40" r="1.35" fill="#e99a2c"/>
<circle cx="412.7" cy="219.80" r="1.35" fill="#2a4a86"/>
<text transform="translate(408.70,217.50) rotate(-38)" font-size="2.6" fill="#2a2a2a">N965K</text>
<line x1="438" y1="217.40" x2="438" y2="226" stroke="#5a5a5a" stroke-width="1.3"/>
<circle cx="438" cy="217.40" r="1.35" fill="#b4203c"/>
<circle cx="438" cy="219.80" r="1.35" fill="#2a4a86"/>
<text transform="translate(434.00,217.50) rotate(-38)" font-size="2.6" fill="#2a2a2a">R394D</text>
<line x1="464" y1="219.80" x2="464" y2="226" stroke="#5a5a5a" stroke-width="0.8"/>
<circle cx="464" cy="219.80" r="1.35" fill="#2a4a86"/>
<text transform="translate(460.00,219.90) rotate(-38)" font-size="2.6" fill="#2a2a2a">A732A</text>
<text transform="translate(195.6,245.90) scale(0.88,1)" font-size="6.5" fill="#34507f" stroke="#34507f" stroke-width="0.12" text-anchor="middle">BCORL1</text>
<text x="195.6" y="253.10" font-size="6.3" fill="#34507f" stroke="#34507f" stroke-width="0.12" text-anchor="middle">N=5</text>
<rect x="207.5" y="247.2" width="300.40" height="5.80" fill="#b9b4b7"/>
<rect x="455.3" y="247.2" width="18.00" height="5.80" fill="#5ba64a"/>
<text x="464.30" y="251.30" font-size="3.9" fill="#f8f4f4" text-anchor="middle" opacity="0.92">Ank_2_2</text>
<line x1="213.3" y1="241.00" x2="213.3" y2="247.2" stroke="#5a5a5a" stroke-width="0.8"/>
<circle cx="213.3" cy="241.00" r="1.35" fill="#e99a2c"/>
<text transform="translate(209.30,241.10) rotate(-38)" font-size="2.6" fill="#2a2a2a">H172Y</text>
<line x1="233" y1="241.00" x2="233" y2="247.2" stroke="#5a5a5a" stroke-width="0.8"/>
<circle cx="233" cy="241.00" r="1.35" fill="#e99a2c"/>
<text transform="translate(229.00,241.10) rotate(-38)" font-size="2.6" fill="#2a2a2a">Y429S</text>
<line x1="279.7" y1="241.00" x2="279.7" y2="247.2" stroke="#5a5a5a" stroke-width="0.8"/>
<circle cx="279.7" cy="241.00" r="1.35" fill="#e99a2c"/>
<text transform="translate(275.70,241.10) rotate(-38)" font-size="2.6" fill="#2a2a2a">H136L</text>
<line x1="397.8" y1="241.00" x2="397.8" y2="247.2" stroke="#5a5a5a" stroke-width="0.8"/>
<circle cx="397.8" cy="241.00" r="1.35" fill="#e99a2c"/>
<text transform="translate(393.80,241.10) rotate(-38)" font-size="2.6" fill="#2a2a2a">A771P</text>
<line x1="464.6" y1="241.00" x2="464.6" y2="247.2" stroke="#5a5a5a" stroke-width="0.8"/>
<circle cx="464.6" cy="241.00" r="1.35" fill="#b4203c"/>
<text transform="translate(460.60,241.10) rotate(-38)" font-size="2.6" fill="#2a2a2a">G739C</text>
<text x="344.9" y="291.4" font-size="7.1" fill="#222" stroke="#222" stroke-width="0.18" text-anchor="end">Chr.</text>
<text x="354.00" y="291.4" font-size="7.1" fill="#222" stroke="#222" stroke-width="0.18" text-anchor="middle">7</text>
<text x="370.30" y="291.4" font-size="7.1" fill="#222" stroke="#222" stroke-width="0.18" text-anchor="middle">12</text>
<text x="386.60" y="291.4" font-size="7.1" fill="#222" stroke="#222" stroke-width="0.18" text-anchor="middle">2</text>
<text x="402.90" y="291.4" font-size="7.1" fill="#222" stroke="#222" stroke-width="0.18" text-anchor="middle">4</text>
<text x="419.20" y="291.4" font-size="7.1" fill="#222" stroke="#222" stroke-width="0.18" text-anchor="middle">22</text>
<text x="435.50" y="291.4" font-size="7.1" fill="#222" stroke="#222" stroke-width="0.18" text-anchor="middle">16</text>
<text x="451.80" y="291.4" font-size="7.1" fill="#222" stroke="#222" stroke-width="0.18" text-anchor="middle">X</text>
<text x="468.10" y="291.4" font-size="7.1" fill="#222" stroke="#222" stroke-width="0.18" text-anchor="middle">7</text>
<text x="484.40" y="291.4" font-size="7.1" fill="#222" stroke="#222" stroke-width="0.18" text-anchor="middle">X</text>
<text x="500.70" y="291.4" font-size="7.1" fill="#222" stroke="#222" stroke-width="0.18" text-anchor="middle">X</text>
<path d="M346.6,297 L346.6,422.5 L510.3,422.5" fill="none" stroke="#222" stroke-width="1"/>
<line x1="343.4" y1="297.50" x2="346.6" y2="297.50" stroke="#222" stroke-width="1"/>
<text x="340.4" y="300.00" font-size="7.0" fill="#222" stroke="#222" stroke-width="0.15" text-anchor="end">1.00</text>
<line x1="343.4" y1="328.50" x2="346.6" y2="328.50" stroke="#222" stroke-width="1"/>
<text x="340.4" y="331.00" font-size="7.0" fill="#222" stroke="#222" stroke-width="0.15" text-anchor="end">0.75</text>
<line x1="343.4" y1="359.50" x2="346.6" y2="359.50" stroke="#222" stroke-width="1"/>
<text x="340.4" y="362.00" font-size="7.0" fill="#222" stroke="#222" stroke-width="0.15" text-anchor="end">0.50</text>
<line x1="343.4" y1="391.50" x2="346.6" y2="391.50" stroke="#222" stroke-width="1"/>
<text x="340.4" y="394.00" font-size="7.0" fill="#222" stroke="#222" stroke-width="0.15" text-anchor="end">0.25</text>
<line x1="343.4" y1="422.50" x2="346.6" y2="422.50" stroke="#222" stroke-width="1"/>
<text x="340.4" y="425.00" font-size="7.0" fill="#222" stroke="#222" stroke-width="0.15" text-anchor="end">0.00</text>
<line x1="355.30" y1="422.5" x2="355.30" y2="425.6" stroke="#222" stroke-width="0.9"/>
<text transform="translate(358.80,431.5) rotate(-45)" font-size="7.1" fill="#222" stroke="#222" stroke-width="0.15" text-anchor="end">SMO</text>
<line x1="371.60" y1="422.5" x2="371.60" y2="425.6" stroke="#222" stroke-width="0.9"/>
<text transform="translate(375.10,431.5) rotate(-45)" font-size="7.1" fill="#222" stroke="#222" stroke-width="0.15" text-anchor="end">GLI1</text>
<line x1="387.90" y1="422.5" x2="387.90" y2="425.6" stroke="#222" stroke-width="0.9"/>
<text transform="translate(391.40,431.5) rotate(-45)" font-size="7.1" fill="#222" stroke="#222" stroke-width="0.15" text-anchor="end">GLI2</text>
<line x1="404.20" y1="422.5" x2="404.20" y2="425.6" stroke="#222" stroke-width="0.9"/>
<text transform="translate(407.70,431.5) rotate(-45)" font-size="7.1" fill="#222" stroke="#222" stroke-width="0.15" text-anchor="end">FBXW7</text>
<line x1="420.50" y1="422.5" x2="420.50" y2="425.6" stroke="#222" stroke-width="0.9"/>
<text transform="translate(424.00,431.5) rotate(-45)" font-size="7.1" fill="#222" stroke="#222" stroke-width="0.15" text-anchor="end">EP300</text>
<line x1="436.80" y1="422.5" x2="436.80" y2="425.6" stroke="#222" stroke-width="0.9"/>
<text transform="translate(440.30,431.5) rotate(-45)" font-size="7.1" fill="#222" stroke="#222" stroke-width="0.15" text-anchor="end">CREBBP</text>
<line x1="453.10" y1="422.5" x2="453.10" y2="425.6" stroke="#222" stroke-width="0.9"/>
<text transform="translate(456.60,431.5) rotate(-45)" font-size="7.1" fill="#222" stroke="#222" stroke-width="0.15" text-anchor="end">MED12</text>
<line x1="469.40" y1="422.5" x2="469.40" y2="425.6" stroke="#222" stroke-width="0.9"/>
<text transform="translate(472.90,431.5) rotate(-45)" font-size="7.1" fill="#222" stroke="#222" stroke-width="0.15" text-anchor="end">EZH2</text>
<line x1="485.70" y1="422.5" x2="485.70" y2="425.6" stroke="#222" stroke-width="0.9"/>
<text transform="translate(489.20,431.5) rotate(-45)" font-size="7.1" fill="#222" stroke="#222" stroke-width="0.15" text-anchor="end">BCOR</text>
<line x1="502.00" y1="422.5" x2="502.00" y2="425.6" stroke="#222" stroke-width="0.9"/>
<text transform="translate(505.50,431.5) rotate(-45)" font-size="7.1" fill="#222" stroke="#222" stroke-width="0.15" text-anchor="end">BCORL1</text>
<text transform="translate(321.3,358.8) rotate(-90)" font-size="10.3" fill="#222" stroke="#222" stroke-width="0.08" text-anchor="middle" textLength="61" lengthAdjust="spacingAndGlyphs">Allelic fractions</text>
<circle cx="355.30" cy="351.60" r="2.35" fill="#3e5d8a"/>
<circle cx="352.30" cy="362.20" r="2.35" fill="#3e5d8a"/>
<circle cx="357.30" cy="362.80" r="2.35" fill="#3e5d8a"/>
<circle cx="355.30" cy="367.00" r="2.35" fill="#3e5d8a"/>
<circle cx="353.30" cy="364.50" r="2.35" fill="#3e5d8a"/>
<circle cx="370.10" cy="350.20" r="2.35" fill="#3e5d8a"/>
<circle cx="374.60" cy="353.80" r="2.35" fill="#3e5d8a"/>
<circle cx="372.10" cy="355.90" r="2.35" fill="#3e5d8a"/>
<circle cx="385.90" cy="349.50" r="2.35" fill="#3e5d8a"/>
<circle cx="390.40" cy="349.50" r="2.35" fill="#3e5d8a"/>
<circle cx="387.40" cy="360.10" r="2.35" fill="#3e5d8a"/>
<circle cx="385.40" cy="365.40" r="2.35" fill="#3e5d8a"/>
<circle cx="390.40" cy="365.00" r="2.35" fill="#3e5d8a"/>
<circle cx="385.40" cy="371.30" r="2.35" fill="#3e5d8a"/>
<circle cx="390.40" cy="377.70" r="2.35" fill="#3e5d8a"/>
<circle cx="387.90" cy="386.10" r="2.35" fill="#3e5d8a"/>
<circle cx="388.40" cy="355.00" r="2.35" fill="#3e5d8a"/>
<circle cx="386.90" cy="358.00" r="2.35" fill="#3e5d8a"/>
<circle cx="389.90" cy="362.00" r="2.35" fill="#3e5d8a"/>
<circle cx="401.20" cy="361.00" r="2.35" fill="#3e5d8a"/>
<circle cx="407.70" cy="361.00" r="2.35" fill="#3e5d8a"/>
<circle cx="403.20" cy="364.40" r="2.35" fill="#3e5d8a"/>
<circle cx="407.20" cy="367.20" r="2.35" fill="#3e5d8a"/>
<circle cx="401.20" cy="370.00" r="2.35" fill="#3e5d8a"/>
<circle cx="406.20" cy="370.60" r="2.35" fill="#3e5d8a"/>
<circle cx="402.70" cy="374.80" r="2.35" fill="#3e5d8a"/>
<circle cx="406.70" cy="385.80" r="2.35" fill="#3e5d8a"/>
<circle cx="401.90" cy="388.60" r="2.35" fill="#3e5d8a"/>
<circle cx="404.20" cy="392.70" r="2.35" fill="#3e5d8a"/>
<circle cx="408.00" cy="395.50" r="2.35" fill="#3e5d8a"/>
<circle cx="401.90" cy="398.90" r="2.35" fill="#3e5d8a"/>
<circle cx="405.70" cy="400.50" r="2.35" fill="#3e5d8a"/>
<circle cx="403.20" cy="401.00" r="2.35" fill="#3e5d8a"/>
<circle cx="417.30" cy="353.40" r="2.35" fill="#3e5d8a"/>
<circle cx="423.50" cy="355.50" r="2.35" fill="#3e5d8a"/>
<circle cx="418.00" cy="358.90" r="2.35" fill="#3e5d8a"/>
<circle cx="422.90" cy="359.60" r="2.35" fill="#3e5d8a"/>
<circle cx="420.80" cy="363.00" r="2.35" fill="#3e5d8a"/>
<circle cx="420.10" cy="385.80" r="2.35" fill="#3e5d8a"/>
<circle cx="420.80" cy="396.10" r="2.35" fill="#3e5d8a"/>
<circle cx="433.20" cy="353.40" r="2.35" fill="#3e5d8a"/>
<circle cx="440.10" cy="351.40" r="2.35" fill="#3e5d8a"/>
<circle cx="435.30" cy="357.60" r="2.35" fill="#3e5d8a"/>
<circle cx="439.10" cy="358.20" r="2.35" fill="#3e5d8a"/>
<circle cx="433.90" cy="361.70" r="2.35" fill="#3e5d8a"/>
<circle cx="438.00" cy="363.00" r="2.35" fill="#3e5d8a"/>
<circle cx="434.60" cy="366.50" r="2.35" fill="#3e5d8a"/>
<circle cx="439.40" cy="366.50" r="2.35" fill="#3e5d8a"/>
<circle cx="435.30" cy="374.00" r="2.35" fill="#3e5d8a"/>
<circle cx="438.70" cy="374.00" r="2.35" fill="#3e5d8a"/>
<circle cx="434.60" cy="381.30" r="2.35" fill="#3e5d8a"/>
<circle cx="439.40" cy="387.20" r="2.35" fill="#3e5d8a"/>
<circle cx="434.60" cy="397.50" r="2.35" fill="#3e5d8a"/>
<circle cx="439.40" cy="397.50" r="2.35" fill="#3e5d8a"/>
<circle cx="436.80" cy="356.00" r="2.35" fill="#3e5d8a"/>
<circle cx="436.80" cy="369.00" r="2.35" fill="#3e5d8a"/>
<circle cx="451.40" cy="297.70" r="2.35" fill="#3e5d8a"/>
<circle cx="455.30" cy="297.70" r="2.35" fill="#3e5d8a"/>
<circle cx="453.30" cy="304.00" r="2.35" fill="#3e5d8a"/>
<circle cx="456.10" cy="309.90" r="2.35" fill="#3e5d8a"/>
<circle cx="450.20" cy="313.90" r="2.35" fill="#3e5d8a"/>
<circle cx="455.30" cy="322.30" r="2.35" fill="#3e5d8a"/>
<circle cx="450.80" cy="326.70" r="2.35" fill="#3e5d8a"/>
<circle cx="453.30" cy="330.50" r="2.35" fill="#3e5d8a"/>
<circle cx="453.30" cy="343.80" r="2.35" fill="#3e5d8a"/>
<circle cx="450.50" cy="361.00" r="2.35" fill="#3e5d8a"/>
<circle cx="456.00" cy="358.90" r="2.35" fill="#3e5d8a"/>
<circle cx="453.30" cy="363.80" r="2.35" fill="#3e5d8a"/>
<circle cx="450.10" cy="382.40" r="2.35" fill="#3e5d8a"/>
<circle cx="456.40" cy="381.30" r="2.35" fill="#3e5d8a"/>
<circle cx="450.50" cy="390.00" r="2.35" fill="#3e5d8a"/>
<circle cx="456.40" cy="391.20" r="2.35" fill="#3e5d8a"/>
<circle cx="453.60" cy="404.90" r="2.35" fill="#3e5d8a"/>
<circle cx="468.20" cy="362.30" r="2.35" fill="#3e5d8a"/>
<circle cx="472.90" cy="358.70" r="2.35" fill="#3e5d8a"/>
<circle cx="468.20" cy="366.00" r="2.35" fill="#3e5d8a"/>
<circle cx="471.00" cy="363.00" r="2.35" fill="#3e5d8a"/>
<circle cx="485.50" cy="297.70" r="2.35" fill="#3e5d8a"/>
<circle cx="482.90" cy="306.00" r="2.35" fill="#3e5d8a"/>
<circle cx="488.20" cy="305.00" r="2.35" fill="#3e5d8a"/>
<circle cx="485.50" cy="335.50" r="2.35" fill="#3e5d8a"/>
<circle cx="482.90" cy="351.30" r="2.35" fill="#3e5d8a"/>
<circle cx="488.20" cy="351.30" r="2.35" fill="#3e5d8a"/>
<circle cx="483.10" cy="365.20" r="2.35" fill="#3e5d8a"/>
<circle cx="488.50" cy="365.00" r="2.35" fill="#3e5d8a"/>
<circle cx="483.80" cy="374.20" r="2.35" fill="#3e5d8a"/>
<circle cx="487.30" cy="371.80" r="2.35" fill="#3e5d8a"/>
<circle cx="488.50" cy="391.20" r="2.35" fill="#3e5d8a"/>
<circle cx="482.60" cy="395.40" r="2.35" fill="#3e5d8a"/>
<circle cx="485.70" cy="360.00" r="2.35" fill="#3e5d8a"/>
<circle cx="485.70" cy="368.00" r="2.35" fill="#3e5d8a"/>
<circle cx="500.20" cy="297.70" r="2.35" fill="#3e5d8a"/>
<circle cx="503.70" cy="297.70" r="2.35" fill="#3e5d8a"/>
<circle cx="502.30" cy="361.40" r="2.35" fill="#3e5d8a"/>
<circle cx="499.20" cy="403.70" r="2.35" fill="#3e5d8a"/>
<circle cx="504.70" cy="402.00" r="2.35" fill="#3e5d8a"/>
<line x1="355.30" y1="354.4" x2="355.30" y2="369" stroke="#222" stroke-width="0.8"/>
<line x1="352.40" y1="354.4" x2="358.20" y2="354.4" stroke="#222" stroke-width="0.8"/>
<line x1="352.40" y1="369" x2="358.20" y2="369" stroke="#222" stroke-width="0.8"/>
<line x1="349.70" y1="361.6" x2="360.90" y2="361.6" stroke="#222" stroke-width="0.9"/>
<line x1="371.60" y1="350.5" x2="371.60" y2="355.6" stroke="#222" stroke-width="0.8"/>
<line x1="368.70" y1="350.5" x2="374.50" y2="350.5" stroke="#222" stroke-width="0.8"/>
<line x1="368.70" y1="355.6" x2="374.50" y2="355.6" stroke="#222" stroke-width="0.8"/>
<line x1="366.00" y1="352.2" x2="377.20" y2="352.2" stroke="#222" stroke-width="0.9"/>
<line x1="387.90" y1="353.1" x2="387.90" y2="375.5" stroke="#222" stroke-width="0.8"/>
<line x1="385.00" y1="353.1" x2="390.80" y2="353.1" stroke="#222" stroke-width="0.8"/>
<line x1="385.00" y1="375.5" x2="390.80" y2="375.5" stroke="#222" stroke-width="0.8"/>
<line x1="382.30" y1="364.3" x2="393.50" y2="364.3" stroke="#222" stroke-width="0.9"/>
<line x1="404.20" y1="363.8" x2="404.20" y2="396" stroke="#222" stroke-width="0.8"/>
<line x1="401.30" y1="363.8" x2="407.10" y2="363.8" stroke="#222" stroke-width="0.8"/>
<line x1="401.30" y1="396" x2="407.10" y2="396" stroke="#222" stroke-width="0.8"/>
<line x1="398.60" y1="380.3" x2="409.80" y2="380.3" stroke="#222" stroke-width="0.9"/>
<line x1="420.50" y1="351.4" x2="420.50" y2="384.4" stroke="#222" stroke-width="0.8"/>
<line x1="417.60" y1="351.4" x2="423.40" y2="351.4" stroke="#222" stroke-width="0.8"/>
<line x1="417.60" y1="384.4" x2="423.40" y2="384.4" stroke="#222" stroke-width="0.8"/>
<line x1="414.90" y1="367.5" x2="426.10" y2="367.5" stroke="#222" stroke-width="0.9"/>
<line x1="436.80" y1="355.5" x2="436.80" y2="383" stroke="#222" stroke-width="0.8"/>
<line x1="433.90" y1="355.5" x2="439.70" y2="355.5" stroke="#222" stroke-width="0.8"/>
<line x1="433.90" y1="383" x2="439.70" y2="383" stroke="#222" stroke-width="0.8"/>
<line x1="431.20" y1="370" x2="442.40" y2="370" stroke="#222" stroke-width="0.9"/>
<line x1="453.10" y1="309.5" x2="453.10" y2="382.3" stroke="#222" stroke-width="0.8"/>
<line x1="450.20" y1="309.5" x2="456.00" y2="309.5" stroke="#222" stroke-width="0.8"/>
<line x1="450.20" y1="382.3" x2="456.00" y2="382.3" stroke="#222" stroke-width="0.8"/>
<line x1="447.50" y1="345.8" x2="458.70" y2="345.8" stroke="#222" stroke-width="0.9"/>
<line x1="469.40" y1="360.5" x2="469.40" y2="364.5" stroke="#222" stroke-width="0.8"/>
<line x1="466.50" y1="360.5" x2="472.30" y2="360.5" stroke="#222" stroke-width="0.8"/>
<line x1="466.50" y1="364.5" x2="472.30" y2="364.5" stroke="#222" stroke-width="0.8"/>
<line x1="463.80" y1="362.3" x2="475.00" y2="362.3" stroke="#222" stroke-width="0.9"/>
<line x1="485.70" y1="323.7" x2="485.70" y2="385.3" stroke="#222" stroke-width="0.8"/>
<line x1="482.80" y1="323.7" x2="488.60" y2="323.7" stroke="#222" stroke-width="0.8"/>
<line x1="482.80" y1="385.3" x2="488.60" y2="385.3" stroke="#222" stroke-width="0.8"/>
<line x1="480.10" y1="354.4" x2="491.30" y2="354.4" stroke="#222" stroke-width="0.9"/>
<line x1="502.00" y1="297.7" x2="502.00" y2="403.7" stroke="#222" stroke-width="0.8"/>
<line x1="499.10" y1="297.7" x2="504.90" y2="297.7" stroke="#222" stroke-width="0.8"/>
<line x1="499.10" y1="403.7" x2="504.90" y2="403.7" stroke="#222" stroke-width="0.8"/>
<line x1="496.40" y1="352.2" x2="507.60" y2="352.2" stroke="#222" stroke-width="0.9"/>
<defs>
<radialGradient id="nucIn" gradientUnits="userSpaceOnUse" cx="60" cy="475" r="260" gradientTransform="translate(60,475) scale(1,0.615) translate(-60,-475)">
 <stop offset="0" stop-color="#b9c1db"/><stop offset="0.2" stop-color="#b2bad4"/><stop offset="0.38" stop-color="#9ba6c0"/><stop offset="0.5" stop-color="#95a0ba"/><stop offset="0.68" stop-color="#878b99"/><stop offset="1" stop-color="#7c7f8b"/>
</radialGradient>
<linearGradient id="nucRim" gradientUnits="userSpaceOnUse" x1="100" y1="380" x2="300" y2="480">
 <stop offset="0" stop-color="#8e99b6"/><stop offset="0.5" stop-color="#97a3c2"/><stop offset="1" stop-color="#9ba8c8"/>
</linearGradient>
<linearGradient id="hilFade" gradientUnits="userSpaceOnUse" x1="8" y1="0" x2="200" y2="0"><stop offset="0" stop-color="#bcc7e2"/><stop offset="0.7" stop-color="#b6c2de"/><stop offset="1" stop-color="#a0acc8" stop-opacity="0"/></linearGradient>
<linearGradient id="pkaG" x1="0" x2="1"><stop offset="0" stop-color="#e07a28"/><stop offset="0.35" stop-color="#f0b060"/><stop offset="0.6" stop-color="#e8a868"/><stop offset="0.75" stop-color="#6a8ad0"/><stop offset="1" stop-color="#4a6ac0"/></linearGradient>
<filter id="blur1" x="-5%" y="-5%" width="110%" height="110%"><feGaussianBlur stdDeviation="0.7"/></filter>
<filter id="blur2" x="-10%" y="-10%" width="120%" height="120%"><feGaussianBlur stdDeviation="1.6"/></filter>
<radialGradient id="cyan" cx="0.4" cy="0.35" r="0.7"><stop offset="0" stop-color="#eef8fa"/><stop offset="1" stop-color="#a9d3df"/></radialGradient>
<radialGradient id="wht" cx="0.4" cy="0.35" r="0.7"><stop offset="0" stop-color="#ffffff"/><stop offset="1" stop-color="#b9d6e2"/></radialGradient>
<radialGradient id="lav" cx="0.5" cy="0.4" r="0.7"><stop offset="0" stop-color="#e8ecf6"/><stop offset="1" stop-color="#aab6d6"/></radialGradient>
<linearGradient id="cylP" x1="0" x2="1"><stop offset="0" stop-color="#8a5292"/><stop offset="0.45" stop-color="#d6aedc"/><stop offset="1" stop-color="#7e4888"/></linearGradient>
<linearGradient id="cylW" x1="0" x2="1"><stop offset="0" stop-color="#9a9a9a"/><stop offset="0.45" stop-color="#ffffff"/><stop offset="1" stop-color="#9a9a9a"/></linearGradient>
<linearGradient id="cylG" x1="0" x2="1"><stop offset="0" stop-color="#2e8a48"/><stop offset="0.45" stop-color="#8ed49a"/><stop offset="1" stop-color="#2e8a48"/></linearGradient>
<linearGradient id="cylY" x1="0" x2="1"><stop offset="0" stop-color="#a8a030"/><stop offset="0.45" stop-color="#f4ee8a"/><stop offset="1" stop-color="#a8a030"/></linearGradient>
<linearGradient id="cylR" x1="0" x2="1"><stop offset="0" stop-color="#8e3426"/><stop offset="0.45" stop-color="#d07060"/><stop offset="1" stop-color="#8a3026"/></linearGradient>
<linearGradient id="cylB" x1="0" x2="1"><stop offset="0" stop-color="#3a7ab8"/><stop offset="0.45" stop-color="#b6dcf6"/><stop offset="1" stop-color="#3a7ab8"/></linearGradient>
</defs>
<clipPath id="nucClip"><path d="M8,381.3 C14.17,380.88 33.00,379.47 45,378.8 C57.00,378.13 70.83,377.52 80,377.3 C89.17,377.08 91.67,376.97 100,377.5 C108.33,378.03 120.00,379.22 130,380.5 C140.00,381.78 148.33,382.83 160,385.2 C171.67,387.57 187.50,390.82 200,394.7 C212.50,398.58 223.67,402.62 235,408.5 C246.33,414.38 259.42,423.42 268,430 C276.58,436.58 281.87,442.17 286.5,448 C291.13,453.83 293.95,459.33 295.8,465 C297.65,470.67 297.40,476.23 297.6,482 C297.80,487.77 297.10,496.67 297,499.6 L8,499.6 Z"/></clipPath>
<path d="M8,381.3 C14.17,380.88 33.00,379.47 45,378.8 C57.00,378.13 70.83,377.52 80,377.3 C89.17,377.08 91.67,376.97 100,377.5 C108.33,378.03 120.00,379.22 130,380.5 C140.00,381.78 148.33,382.83 160,385.2 C171.67,387.57 187.50,390.82 200,394.7 C212.50,398.58 223.67,402.62 235,408.5 C246.33,414.38 259.42,423.42 268,430 C276.58,436.58 281.87,442.17 286.5,448 C291.13,453.83 293.95,459.33 295.8,465 C297.65,470.67 297.40,476.23 297.6,482 C297.80,487.77 297.10,496.67 297,499.6 L8,499.6 Z" fill="url(#nucRim)"/>
<g clip-path="url(#nucClip)">
<path d="M8,381.3 C14.17,380.88 33.00,379.47 45,378.8 C57.00,378.13 70.83,377.52 80,377.3 C89.17,377.08 91.67,376.97 100,377.5 C108.33,378.03 120.00,379.22 130,380.5 C140.00,381.78 148.33,382.83 160,385.2 C171.67,387.57 187.50,390.82 200,394.7 C212.50,398.58 229.17,406.20 235,408.5 " fill="none" stroke="#737b92" stroke-width="3.2" opacity="0.8" filter="url(#blur1)"/>
<path d="M8,384.8 C14.17,384.40 33.00,383.05 45,382.4 C57.00,381.75 70.83,381.12 80,380.9 C89.17,380.68 91.67,380.58 100,381.1 C108.33,381.62 120.00,382.68 130,384 C140.00,385.32 148.33,386.53 160,389 C171.67,391.47 193.33,397.17 200,398.8 " fill="none" stroke="url(#hilFade)" stroke-width="1.9" opacity="0.85" filter="url(#blur1)"/>
<path d="M8,386.8 C14.17,386.40 33.00,385.05 45,384.4 C57.00,383.75 70.83,383.12 80,382.9 C89.17,382.68 91.67,382.55 100,383.1 C108.33,383.65 120.00,384.85 130,386.2 C140.00,387.55 148.33,388.65 160,391.2 C171.67,393.75 187.50,397.28 200,401.5 C212.50,405.72 225.67,411.58 235,416.5 C244.33,421.42 250.33,426.58 256,431 C261.67,435.42 265.17,438.33 269,443 C272.83,447.67 276.25,453.33 279,459 C281.75,464.67 283.92,470.23 285.5,477 C287.08,483.77 288.00,495.83 288.5,499.6 L8,499.6 Z" fill="url(#nucIn)"/>
<path d="M160,391.2 C166.67,392.92 187.50,397.28 200,401.5 C212.50,405.72 225.67,411.58 235,416.5 C244.33,421.42 250.33,426.58 256,431 C261.67,435.42 265.17,438.33 269,443 C272.83,447.67 276.25,453.33 279,459 C281.75,464.67 283.92,470.23 285.5,477 C287.08,483.77 288.00,495.83 288.5,499.6 " fill="none" stroke="#5f636e" stroke-width="5" opacity="0.45" filter="url(#blur2)" transform="translate(-2.2,1.2)"/>
<path d="M8,386.8 C14.17,386.40 33.00,385.05 45,384.4 C57.00,383.75 70.83,383.12 80,382.9 C89.17,382.68 91.67,382.55 100,383.1 C108.33,383.65 120.00,384.85 130,386.2 C140.00,387.55 148.33,388.65 160,391.2 C171.67,393.75 193.33,399.78 200,401.5 " fill="none" stroke="#6a7080" stroke-width="4" opacity="0.35" filter="url(#blur2)" transform="translate(0,2)"/>
</g>
<path d="M8,381.3 C14.17,380.88 33.00,379.47 45,378.8 C57.00,378.13 70.83,377.52 80,377.3 C89.17,377.08 91.67,376.97 100,377.5 C108.33,378.03 120.00,379.22 130,380.5 C140.00,381.78 148.33,382.83 160,385.2 C171.67,387.57 187.50,390.82 200,394.7 C212.50,398.58 223.67,402.62 235,408.5 C246.33,414.38 259.42,423.42 268,430 C276.58,436.58 281.87,442.17 286.5,448 C291.13,453.83 293.95,459.33 295.8,465 C297.65,470.67 297.40,476.23 297.6,482 C297.80,487.77 297.10,496.67 297,499.6 " fill="none" stroke="#525868" stroke-width="0.8"/>
<path d="M8,301.00 L12,301.04 L16,301.07 L20,301.11 L24,301.15 L28,301.18 L32,301.24 L36,301.32 L40,301.40 L44,301.48 L48,301.56 L52,301.64 L56,301.72 L60,301.80 L64,301.94 L68,302.09 L72,302.23 L76,302.38 L80,302.52 L84,302.66 L88,302.88 L92,303.12 L96,303.36 L100,303.60 L104,303.87 L108,304.14 L112,304.42 L116,304.69 L120,304.96 L124,305.23 L128,305.59 L132,305.97 L136,306.35 L140,306.73 L144,307.11 L148,307.53 L152,307.98 L156,308.42 L160,308.87 L164,309.31 L168,309.75 L172,310.18 L176,310.62 L180,311.05 L184,311.49 L188,311.93 L192,312.36 L196,312.80 L200,313.24 L204,313.67 L208,314.11 L212,314.53 L216,314.95 L220,315.38 L224,315.80 L228,316.23 L232,316.65 L236,317.08 L240,317.50 L244,317.92 L248,318.33 L252,318.75 L256,319.17 L260,319.58 L264,320.00 L268,320.42 L272,320.83 L276,321.25 L280,321.67 L284,322.08 L288,322.50 L288,328.50 L284,328.08 L280,327.67 L276,327.25 L272,326.83 L268,326.42 L264,326.00 L260,325.58 L256,325.17 L252,324.75 L248,324.33 L244,323.92 L240,323.50 L236,323.08 L232,322.65 L228,322.23 L224,321.80 L220,321.38 L216,320.95 L212,320.53 L208,320.11 L204,319.67 L200,319.24 L196,318.80 L192,318.36 L188,317.93 L184,317.49 L180,317.05 L176,316.62 L172,316.18 L168,315.75 L164,315.31 L160,314.87 L156,314.42 L152,313.98 L148,313.53 L144,313.11 L140,312.73 L136,312.35 L132,311.97 L128,311.59 L124,311.23 L120,310.96 L116,310.69 L112,310.42 L108,310.14 L104,309.87 L100,309.60 L96,309.36 L92,309.12 L88,308.88 L84,308.66 L80,308.52 L76,308.38 L72,308.23 L68,308.09 L64,307.94 L60,307.80 L56,307.72 L52,307.64 L48,307.56 L44,307.48 L40,307.40 L36,307.32 L32,307.24 L28,307.18 L24,307.15 L20,307.11 L16,307.07 L12,307.04 L8,307.00Z" fill="#f7eeee"/>
<path d="M9.30,301.61V305.51M12.65,301.64V305.54M16.00,301.67V305.57M19.35,301.70V305.60M22.70,301.73V305.63M26.05,301.76V305.66M29.40,301.79V305.69M32.75,301.86V305.76M36.10,301.92V305.82M39.45,301.99V305.89M42.80,302.06V305.96M46.15,302.12V306.02M49.50,302.19V306.09M52.85,302.26V306.16M56.20,302.32V306.22M59.55,302.39V306.29M62.90,302.50V306.40M66.25,302.62V306.53M69.60,302.75V306.65M72.95,302.87V306.77M76.30,302.99V306.89M79.65,303.11V307.01M83.00,303.23V307.13M86.35,303.38V307.28M89.70,303.58V307.48M93.05,303.78V307.68M96.40,303.98V307.88M99.75,304.19V308.09M103.10,304.41V308.31M106.45,304.64V308.54M109.80,304.87V308.77M113.15,305.09V308.99M116.50,305.32V309.22M119.85,305.55V309.45M123.20,305.78V309.68M126.55,306.05V309.95M129.90,306.37V310.27M133.25,306.68V310.58M136.60,307.00V310.90M139.95,307.32V311.22M143.30,307.64V311.54M146.65,307.98V311.88M150.00,308.36V312.26M153.35,308.73V312.63M156.70,309.10V313.00M160.05,309.47V313.37M163.40,309.84V313.74M166.75,310.21V314.11M170.10,310.57V314.47M173.45,310.94V314.84M176.80,311.31V315.21M180.15,311.67V315.57M183.50,312.04V315.94M186.85,312.40V316.30M190.20,312.77V316.67M193.55,313.13V317.03M196.90,313.50V317.40M200.25,313.86V317.76M203.60,314.23V318.13M206.95,314.59V318.49M210.30,314.95V318.85M213.65,315.31V319.21M217.00,315.66V319.56M220.35,316.02V319.92M223.70,316.37V320.27M227.05,316.73V320.63M230.40,317.08V320.98M233.75,317.44V321.34M237.10,317.79V321.69M240.45,318.15V322.05M243.80,318.50V322.40M247.15,318.84V322.74M250.50,319.19V323.09M253.85,319.54V323.44M257.20,319.89V323.79M260.55,320.24V324.14M263.90,320.59V324.49M267.25,320.94V324.84M270.60,321.29V325.19M273.95,321.64V325.54M277.30,321.99V325.89M280.65,322.33V326.23M284.00,322.68V326.58M287.35,323.03V326.93" stroke="#d9aaa8" stroke-width="1.3" fill="none"/>
<g fill="#f2c65a" stroke="#4e4028" stroke-width="0.5"><circle cx="9.30" cy="300.41" r="1.4"/><circle cx="9.30" cy="306.71" r="1.4"/><circle cx="12.65" cy="300.44" r="1.4"/><circle cx="12.65" cy="306.74" r="1.4"/><circle cx="16.00" cy="300.47" r="1.4"/><circle cx="16.00" cy="306.77" r="1.4"/><circle cx="19.35" cy="300.50" r="1.4"/><circle cx="19.35" cy="306.80" r="1.4"/><circle cx="22.70" cy="300.53" r="1.4"/><circle cx="22.70" cy="306.83" r="1.4"/><circle cx="26.05" cy="300.56" r="1.4"/><circle cx="26.05" cy="306.86" r="1.4"/><circle cx="29.40" cy="300.59" r="1.4"/><circle cx="29.40" cy="306.89" r="1.4"/><circle cx="32.75" cy="300.66" r="1.4"/><circle cx="32.75" cy="306.96" r="1.4"/><circle cx="36.10" cy="300.72" r="1.4"/><circle cx="36.10" cy="307.02" r="1.4"/><circle cx="39.45" cy="300.79" r="1.4"/><circle cx="39.45" cy="307.09" r="1.4"/><circle cx="42.80" cy="300.86" r="1.4"/><circle cx="42.80" cy="307.16" r="1.4"/><circle cx="46.15" cy="300.92" r="1.4"/><circle cx="46.15" cy="307.22" r="1.4"/><circle cx="49.50" cy="300.99" r="1.4"/><circle cx="49.50" cy="307.29" r="1.4"/><circle cx="52.85" cy="301.06" r="1.4"/><circle cx="52.85" cy="307.36" r="1.4"/><circle cx="56.20" cy="301.12" r="1.4"/><circle cx="56.20" cy="307.42" r="1.4"/><circle cx="59.55" cy="301.19" r="1.4"/><circle cx="59.55" cy="307.49" r="1.4"/><circle cx="62.90" cy="301.30" r="1.4"/><circle cx="62.90" cy="307.60" r="1.4"/><circle cx="66.25" cy="301.43" r="1.4"/><circle cx="66.25" cy="307.73" r="1.4"/><circle cx="69.60" cy="301.55" r="1.4"/><circle cx="69.60" cy="307.85" r="1.4"/><circle cx="72.95" cy="301.67" r="1.4"/><circle cx="72.95" cy="307.97" r="1.4"/><circle cx="76.30" cy="301.79" r="1.4"/><circle cx="76.30" cy="308.09" r="1.4"/><circle cx="79.65" cy="301.91" r="1.4"/><circle cx="79.65" cy="308.21" r="1.4"/><circle cx="83.00" cy="302.03" r="1.4"/><circle cx="83.00" cy="308.33" r="1.4"/><circle cx="86.35" cy="302.18" r="1.4"/><circle cx="86.35" cy="308.48" r="1.4"/><circle cx="89.70" cy="302.38" r="1.4"/><circle cx="89.70" cy="308.68" r="1.4"/><circle cx="93.05" cy="302.58" r="1.4"/><circle cx="93.05" cy="308.88" r="1.4"/><circle cx="96.40" cy="302.78" r="1.4"/><circle cx="96.40" cy="309.08" r="1.4"/><circle cx="99.75" cy="302.99" r="1.4"/><circle cx="99.75" cy="309.29" r="1.4"/><circle cx="103.10" cy="303.21" r="1.4"/><circle cx="103.10" cy="309.51" r="1.4"/><circle cx="106.45" cy="303.44" r="1.4"/><circle cx="106.45" cy="309.74" r="1.4"/><circle cx="109.80" cy="303.67" r="1.4"/><circle cx="109.80" cy="309.97" r="1.4"/><circle cx="113.15" cy="303.89" r="1.4"/><circle cx="113.15" cy="310.19" r="1.4"/><circle cx="116.50" cy="304.12" r="1.4"/><circle cx="116.50" cy="310.42" r="1.4"/><circle cx="119.85" cy="304.35" r="1.4"/><circle cx="119.85" cy="310.65" r="1.4"/><circle cx="123.20" cy="304.58" r="1.4"/><circle cx="123.20" cy="310.88" r="1.4"/><circle cx="126.55" cy="304.85" r="1.4"/><circle cx="126.55" cy="311.15" r="1.4"/><circle cx="129.90" cy="305.17" r="1.4"/><circle cx="129.90" cy="311.47" r="1.4"/><circle cx="133.25" cy="305.48" r="1.4"/><circle cx="133.25" cy="311.78" r="1.4"/><circle cx="136.60" cy="305.80" r="1.4"/><circle cx="136.60" cy="312.10" r="1.4"/><circle cx="139.95" cy="306.12" r="1.4"/><circle cx="139.95" cy="312.42" r="1.4"/><circle cx="143.30" cy="306.44" r="1.4"/><circle cx="143.30" cy="312.74" r="1.4"/><circle cx="146.65" cy="306.78" r="1.4"/><circle cx="146.65" cy="313.08" r="1.4"/><circle cx="150.00" cy="307.16" r="1.4"/><circle cx="150.00" cy="313.46" r="1.4"/><circle cx="153.35" cy="307.53" r="1.4"/><circle cx="153.35" cy="313.83" r="1.4"/><circle cx="156.70" cy="307.90" r="1.4"/><circle cx="156.70" cy="314.20" r="1.4"/><circle cx="160.05" cy="308.27" r="1.4"/><circle cx="160.05" cy="314.57" r="1.4"/><circle cx="163.40" cy="308.64" r="1.4"/><circle cx="163.40" cy="314.94" r="1.4"/><circle cx="166.75" cy="309.01" r="1.4"/><circle cx="166.75" cy="315.31" r="1.4"/><circle cx="170.10" cy="309.37" r="1.4"/><circle cx="170.10" cy="315.67" r="1.4"/><circle cx="173.45" cy="309.74" r="1.4"/><circle cx="173.45" cy="316.04" r="1.4"/><circle cx="176.80" cy="310.11" r="1.4"/><circle cx="176.80" cy="316.41" r="1.4"/><circle cx="180.15" cy="310.47" r="1.4"/><circle cx="180.15" cy="316.77" r="1.4"/><circle cx="183.50" cy="310.84" r="1.4"/><circle cx="183.50" cy="317.14" r="1.4"/><circle cx="186.85" cy="311.20" r="1.4"/><circle cx="186.85" cy="317.50" r="1.4"/><circle cx="190.20" cy="311.57" r="1.4"/><circle cx="190.20" cy="317.87" r="1.4"/><circle cx="193.55" cy="311.93" r="1.4"/><circle cx="193.55" cy="318.23" r="1.4"/><circle cx="196.90" cy="312.30" r="1.4"/><circle cx="196.90" cy="318.60" r="1.4"/><circle cx="200.25" cy="312.66" r="1.4"/><circle cx="200.25" cy="318.96" r="1.4"/><circle cx="203.60" cy="313.03" r="1.4"/><circle cx="203.60" cy="319.33" r="1.4"/><circle cx="206.95" cy="313.39" r="1.4"/><circle cx="206.95" cy="319.69" r="1.4"/><circle cx="210.30" cy="313.75" r="1.4"/><circle cx="210.30" cy="320.05" r="1.4"/><circle cx="213.65" cy="314.11" r="1.4"/><circle cx="213.65" cy="320.41" r="1.4"/><circle cx="217.00" cy="314.46" r="1.4"/><circle cx="217.00" cy="320.76" r="1.4"/><circle cx="220.35" cy="314.82" r="1.4"/><circle cx="220.35" cy="321.12" r="1.4"/><circle cx="223.70" cy="315.17" r="1.4"/><circle cx="223.70" cy="321.47" r="1.4"/><circle cx="227.05" cy="315.53" r="1.4"/><circle cx="227.05" cy="321.83" r="1.4"/><circle cx="230.40" cy="315.88" r="1.4"/><circle cx="230.40" cy="322.18" r="1.4"/><circle cx="233.75" cy="316.24" r="1.4"/><circle cx="233.75" cy="322.54" r="1.4"/><circle cx="237.10" cy="316.59" r="1.4"/><circle cx="237.10" cy="322.89" r="1.4"/><circle cx="240.45" cy="316.95" r="1.4"/><circle cx="240.45" cy="323.25" r="1.4"/><circle cx="243.80" cy="317.30" r="1.4"/><circle cx="243.80" cy="323.60" r="1.4"/><circle cx="247.15" cy="317.64" r="1.4"/><circle cx="247.15" cy="323.94" r="1.4"/><circle cx="250.50" cy="317.99" r="1.4"/><circle cx="250.50" cy="324.29" r="1.4"/><circle cx="253.85" cy="318.34" r="1.4"/><circle cx="253.85" cy="324.64" r="1.4"/><circle cx="257.20" cy="318.69" r="1.4"/><circle cx="257.20" cy="324.99" r="1.4"/><circle cx="260.55" cy="319.04" r="1.4"/><circle cx="260.55" cy="325.34" r="1.4"/><circle cx="263.90" cy="319.39" r="1.4"/><circle cx="263.90" cy="325.69" r="1.4"/><circle cx="267.25" cy="319.74" r="1.4"/><circle cx="267.25" cy="326.04" r="1.4"/><circle cx="270.60" cy="320.09" r="1.4"/><circle cx="270.60" cy="326.39" r="1.4"/><circle cx="273.95" cy="320.44" r="1.4"/><circle cx="273.95" cy="326.74" r="1.4"/><circle cx="277.30" cy="320.79" r="1.4"/><circle cx="277.30" cy="327.09" r="1.4"/><circle cx="280.65" cy="321.13" r="1.4"/><circle cx="280.65" cy="327.43" r="1.4"/><circle cx="284.00" cy="321.48" r="1.4"/><circle cx="284.00" cy="327.78" r="1.4"/><circle cx="287.35" cy="321.83" r="1.4"/><circle cx="287.35" cy="328.13" r="1.4"/></g>
<ellipse cx="91.5" cy="292.7" rx="7.2" ry="5" fill="#5d80c4" stroke="#46679f" stroke-width="0.4"/>
<text x="91.5" y="294.4" font-size="4.6" fill="#e0e070" text-anchor="middle">HH</text>
<path d="M98.7,293 L117.5,295.2" stroke="#7cb84a" stroke-width="0.9"/><path d="M121.6,296 L116.8,293.2 L116.3,297.4Z" fill="#7cb84a"/>
<path d="M131,294 C131,289 129,286 125.5,285.5 M142,293.5 C145,286 158,284 159.5,299 M139,300.5 C140,295 146,295 147,302 M137,321.5 C137,330 142,330 143.5,323 M146,323 C146,332 153,333 154,326 M156,326 C156,333 163,333 165,330 M133,316 C132,322 135,325 137,324" fill="none" stroke="#dcaa60" stroke-width="0.85"/>
<rect x="129.5" y="293.5" width="7.30" height="22.80" rx="3.65" ry="1.6" fill="url(#cylP)" stroke="#444" stroke-width="0.25"/>
<ellipse cx="133.15" cy="295.00" rx="3.65" ry="1.4" fill="url(#cylP)" opacity="0.9" stroke="#555" stroke-width="0.2"/>
<rect x="138.2" y="293" width="6.90" height="23.00" rx="3.45" ry="1.6" fill="url(#cylG)" stroke="#444" stroke-width="0.25"/>
<ellipse cx="141.65" cy="294.50" rx="3.45" ry="1.4" fill="url(#cylG)" opacity="0.9" stroke="#555" stroke-width="0.2"/>
<rect x="146.8" y="295.7" width="6.70" height="22.30" rx="3.35" ry="1.6" fill="url(#cylR)" stroke="#444" stroke-width="0.25"/>
<ellipse cx="150.15" cy="297.20" rx="3.35" ry="1.4" fill="url(#cylR)" opacity="0.9" stroke="#555" stroke-width="0.2"/>
<rect x="155.7" y="298.9" width="6.00" height="21.10" rx="3.00" ry="1.6" fill="url(#cylP)" stroke="#444" stroke-width="0.25"/>
<ellipse cx="158.70" cy="300.40" rx="3.00" ry="1.4" fill="url(#cylP)" opacity="0.9" stroke="#555" stroke-width="0.2"/>
<rect x="134.9" y="300" width="7.30" height="21.70" rx="3.65" ry="1.6" fill="url(#cylW)" stroke="#444" stroke-width="0.25"/>
<ellipse cx="138.55" cy="301.50" rx="3.65" ry="1.4" fill="url(#cylW)" opacity="0.9" stroke="#555" stroke-width="0.2"/>
<rect x="143" y="301.6" width="7.50" height="21.70" rx="3.75" ry="1.6" fill="url(#cylY)" stroke="#444" stroke-width="0.25"/>
<ellipse cx="146.75" cy="303.10" rx="3.75" ry="1.4" fill="url(#cylY)" opacity="0.9" stroke="#555" stroke-width="0.2"/>
<rect x="152.5" y="303.3" width="7.50" height="23.20" rx="3.75" ry="1.6" fill="url(#cylB)" stroke="#444" stroke-width="0.25"/>
<ellipse cx="156.25" cy="304.80" rx="3.75" ry="1.4" fill="url(#cylB)" opacity="0.9" stroke="#555" stroke-width="0.2"/>
<text transform="translate(145.3,306) rotate(90)" font-size="4.2" fill="#3a3a20">P T C</text>
<path d="M212,305 C212,300 210,297.5 206.5,297 M219.5,304.5 C222,298 234,298 234.5,308.5 M216.5,310.5 C217.5,306 222.5,306 223.5,311.5 M215,329 C215,334 219,334 220,330 M223,330 C223,335 228,336 229,332 M231,332 C232,336 236,336 237,333" fill="none" stroke="#dcaa60" stroke-width="0.85"/>
<rect x="209.2" y="304.8" width="5.90" height="18.30" rx="2.95" ry="1.6" fill="url(#cylP)" stroke="#444" stroke-width="0.25"/>
<ellipse cx="212.15" cy="306.30" rx="2.95" ry="1.4" fill="url(#cylP)" opacity="0.9" stroke="#555" stroke-width="0.2"/>
<rect x="216.8" y="304.2" width="5.70" height="17.80" rx="2.85" ry="1.6" fill="url(#cylG)" stroke="#444" stroke-width="0.25"/>
<ellipse cx="219.65" cy="305.70" rx="2.85" ry="1.4" fill="url(#cylG)" opacity="0.9" stroke="#555" stroke-width="0.2"/>
<rect x="224.2" y="306" width="5.40" height="18.00" rx="2.70" ry="1.6" fill="url(#cylR)" stroke="#444" stroke-width="0.25"/>
<ellipse cx="226.90" cy="307.50" rx="2.70" ry="1.4" fill="url(#cylR)" opacity="0.9" stroke="#555" stroke-width="0.2"/>
<rect x="231.9" y="308.3" width="4.70" height="19.50" rx="2.35" ry="1.6" fill="url(#cylP)" stroke="#444" stroke-width="0.25"/>
<ellipse cx="234.25" cy="309.80" rx="2.35" ry="1.4" fill="url(#cylP)" opacity="0.9" stroke="#555" stroke-width="0.2"/>
<rect x="213.2" y="310" width="6.30" height="19.60" rx="3.15" ry="1.6" fill="url(#cylW)" stroke="#444" stroke-width="0.25"/>
<ellipse cx="216.35" cy="311.50" rx="3.15" ry="1.4" fill="url(#cylW)" opacity="0.9" stroke="#555" stroke-width="0.2"/>
<rect x="221" y="311.3" width="5.60" height="18.90" rx="2.80" ry="1.6" fill="url(#cylY)" stroke="#444" stroke-width="0.25"/>
<ellipse cx="223.80" cy="312.80" rx="2.80" ry="1.4" fill="url(#cylY)" opacity="0.9" stroke="#555" stroke-width="0.2"/>
<rect x="228.4" y="312.5" width="6.80" height="20.10" rx="3.40" ry="1.6" fill="url(#cylB)" stroke="#444" stroke-width="0.25"/>
<ellipse cx="231.80" cy="314.00" rx="3.40" ry="1.4" fill="url(#cylB)" opacity="0.9" stroke="#555" stroke-width="0.2"/>
<text transform="translate(222.6,314.5) rotate(90)" font-size="3.8" fill="#3a3a20">S M O</text>
<line x1="161.5" y1="323.2" x2="208.7" y2="326.7" stroke="#cc604c" stroke-width="0.8"/>
<path d="M183,321.6 L187.4,326.6 M187.4,321.6 L183,326.6" stroke="#222" stroke-width="0.8"/>
<path d="M208.5,331 C214,333.5 232,333.5 238.5,331.5 C242.5,330.5 242.5,336 240,340 C237,345 228,346.5 221,346 C213,345.5 208,344 206.8,339 C206,335 206.5,330.5 208.5,331Z" fill="#b2a6d8" stroke="#8a7cbc" stroke-width="0.5"/>
<text x="224.5" y="341.8" font-size="4.8" fill="#3a3050" text-anchor="middle" font-style="italic">G Protein</text>
<path d="M241,342 L267.2,342 L267.2,476.5 L204.8,476.5" fill="none" stroke="#cc604c" stroke-width="0.9"/>
<line x1="204.6" y1="474.1" x2="204.6" y2="478.9" stroke="#cc604c" stroke-width="1"/>
<rect x="160.8" y="339.2" width="26.50" height="8.10" rx="4.05" fill="#7c78c4" stroke="none" stroke-width="0.5"/>
<text x="174.05" y="344.85" font-size="5" fill="#262a5a" text-anchor="middle">STK36</text>
<rect x="166.9" y="348" width="21.90" height="7.60" rx="3.80" fill="#e07c70" stroke="none" stroke-width="0.5"/>
<text x="177.85" y="353.40" font-size="5" fill="#6a2a24" text-anchor="middle">SUFU</text>
<ellipse cx="187.3" cy="358" rx="7" ry="4" fill="#626262" stroke="none" stroke-width="0.4"/>
<text x="187.3" y="359.37" font-size="3.8" fill="#222" text-anchor="middle" font-weight="normal">KIF7</text>
<ellipse cx="170.8" cy="360.4" rx="11.5" ry="5.2" fill="url(#cyan)" stroke="#9cc2cc" stroke-width="0.4"/>
<text x="170.8" y="362.13" font-size="4.8" fill="#2a2a2a" text-anchor="middle" font-weight="normal">GLI1</text>
<ellipse cx="128.5" cy="342.3" rx="11.5" ry="5" fill="url(#cyan)" stroke="#9cc2cc" stroke-width="0.4"/>
<text x="128.5" y="344.03" font-size="4.8" fill="#2a2a2a" text-anchor="middle" font-weight="normal">GLI1</text>
<ellipse cx="175.6" cy="376.2" rx="11.5" ry="4.8" fill="url(#cyan)" stroke="#9cc2cc" stroke-width="0.4"/>
<text x="175.6" y="377.86" font-size="4.6" fill="#2a2a2a" text-anchor="middle" font-weight="normal">GLI2,3<tspan font-size="3">Rep</tspan></text>
<rect x="227.7" y="361.3" width="27.90" height="7.70" rx="3.85" fill="#7c78c4" stroke="none" stroke-width="0.5"/>
<text x="241.65" y="366.75" font-size="5" fill="#262a5a" text-anchor="middle">STK36</text>
<rect x="226.7" y="369.6" width="23.10" height="6.20" rx="3.10" fill="#e07c70" stroke="none" stroke-width="0.5"/>
<text x="238.25" y="374.30" font-size="5" fill="#6a2a24" text-anchor="middle">SUFU</text>
<ellipse cx="227.7" cy="380" rx="6.6" ry="4" fill="#6a6a6a" stroke="none" stroke-width="0.4"/>
<text x="227.7" y="381.30" font-size="3.6" fill="#222" text-anchor="middle" font-weight="normal">KIF7</text>
<ellipse cx="247.8" cy="380.5" rx="11" ry="5.4" fill="url(#cyan)" stroke="#9cc2cc" stroke-width="0.4"/>
<text x="247.8" y="382.23" font-size="4.8" fill="#2a2a2a" text-anchor="middle" font-weight="normal">GLI2,3</text>
<line x1="189.12" y1="330.19" x2="210.73" y2="362.96" stroke="#e2a447" stroke-width="0.8"/>
<line x1="185.41" y1="327.21" x2="207.89" y2="356.45" stroke="#d89634" stroke-width="0.8"/>
<line x1="189.23" y1="334.71" x2="210.82" y2="365.76" stroke="#eab862" stroke-width="0.8"/>
<line x1="184.54" y1="330.73" x2="207.18" y2="363.88" stroke="#dc9a3a" stroke-width="0.8"/>
<line x1="188.09" y1="337.86" x2="212.36" y2="367.49" stroke="#e6ac50" stroke-width="0.8"/>
<line x1="180.91" y1="330.55" x2="203.65" y2="362.48" stroke="#d8963a" stroke-width="0.8"/>
<line x1="183.25" y1="335.71" x2="209.06" y2="367.07" stroke="#e4a848" stroke-width="0.8"/>
<line x1="187.24" y1="343.08" x2="205.43" y2="366.89" stroke="#dca04a" stroke-width="0.8"/>
<text transform="translate(196.75,347.50) rotate(53.4)" font-size="4.5" font-weight="bold" fill="#1a1410" text-anchor="middle" dy="1.3" textLength="28.6" lengthAdjust="spacingAndGlyphs">Microtubules</text>
<line x1="234.16" y1="354.05" x2="217.51" y2="388.40" stroke="#e2a447" stroke-width="0.8"/>
<line x1="234.77" y1="349.45" x2="221.56" y2="382.80" stroke="#d89634" stroke-width="0.8"/>
<line x1="230.38" y1="356.37" x2="215.17" y2="389.85" stroke="#eab862" stroke-width="0.8"/>
<line x1="231.32" y1="350.45" x2="214.88" y2="385.85" stroke="#dc9a3a" stroke-width="0.8"/>
<line x1="227.11" y1="356.95" x2="214.49" y2="392.00" stroke="#e6ac50" stroke-width="0.8"/>
<line x1="229.60" y1="347.30" x2="214.24" y2="382.19" stroke="#d8963a" stroke-width="0.8"/>
<line x1="226.43" y1="351.81" x2="213.14" y2="389.01" stroke="#e4a848" stroke-width="0.8"/>
<line x1="222.22" y1="358.80" x2="211.41" y2="385.87" stroke="#dca04a" stroke-width="0.8"/>
<text transform="translate(223.40,369.00) rotate(292.6)" font-size="4.5" font-weight="bold" fill="#1a1410" text-anchor="middle" dy="1.3" textLength="27.8" lengthAdjust="spacingAndGlyphs">Microtubules</text>
<ellipse cx="267.5" cy="405.1" rx="7.6" ry="4.8" fill="url(#pkaG)" stroke="#6a86c8" stroke-width="0.5"/>
<text x="267.5" y="406.68" font-size="4.4" fill="#333" text-anchor="middle" font-weight="normal">PKA</text>
<ellipse cx="55.2" cy="325.5" rx="14.1" ry="3.3" fill="#dcdadc" stroke="none" stroke-width="0.4"/>
<text x="55.2" y="327.08" font-size="4.4" fill="#555" text-anchor="middle" font-weight="normal">FBXW7</text>
<rect x="26" y="338.9" width="18.20" height="7.10" rx="3.55" fill="url(#lav)" stroke="none" stroke-width="0.5"/>
<text x="35.10" y="344.05" font-size="4.8" fill="#334" text-anchor="middle">p63</text>
<path d="M76,344.5 l4,-2.5 l1.5,3.5Z M92,342 l4,-1.5 l0.5,3.5Z M81,336.5 l3.5,-1.5 l1,2.5Z M95.5,338 l2.5,0.5 l-1,2.5Z M78,339 l2,-2 l1,2Z" fill="#9cbce6"/>
<text x="85" y="340.6" font-size="5.2" fill="#222" text-anchor="middle" textLength="22" lengthAdjust="spacingAndGlyphs">Degraded</text><text x="86" y="346.5" font-size="5" fill="#222" text-anchor="middle">p63</text>
<path d="M55.3,328.8 L55.3,337.6" fill="none" stroke="#7cb84a" stroke-width="0.9"/>
<path d="M55.30,341.80 L53.40,337.60 L57.20,337.60Z" fill="#7cb84a"/>
<path d="M44.2,342.7 L67.5,342.7" fill="none" stroke="#7cb84a" stroke-width="0.9"/>
<path d="M71.90,342.70 L67.70,344.60 L67.70,340.80Z" fill="#7cb84a"/>
<path d="M34.6,347 L34.6,410" fill="none" stroke="#7cb84a" stroke-width="0.9"/>
<path d="M34.60,414.60 L32.70,410.40 L36.50,410.40Z" fill="#7cb84a"/>
<path d="M160,357 C155,351 150,347 145,345.5" fill="none" stroke="#7cb84a" stroke-width="0.9"/>
<path d="M141.30,344.60 L145.85,343.85 L144.87,347.52Z" fill="#7cb84a"/>
<path d="M220,347.9 C216,360 210,373 202.7,372.9 C196,372 190,369 188,367.5" fill="none" stroke="#7cb84a" stroke-width="0.9"/>
<path d="M184.40,366.20 L189.00,365.85 L187.70,369.42Z" fill="#7cb84a"/>
<path d="M233.5,346 C248,352 262,357 265,363 C266,367 260,370 257.5,371.5" fill="none" stroke="#7cb84a" stroke-width="0.9"/>
<path d="M254.60,372.90 L257.29,369.15 L259.19,372.45Z" fill="#7cb84a"/>
<path d="M243,386 C235,391 222,394 210,392 C203,390.5 197,386 192,381.8" fill="none" stroke="#7cb84a" stroke-width="0.9"/>
<path d="M188.60,379.60 L193.13,380.45 L190.95,383.57Z" fill="#7cb84a"/>
<path d="M260,404 L237.5,397" fill="none" stroke="#7cb84a" stroke-width="0.9"/>
<path d="M233.50,395.80 L238.07,395.21 L236.96,398.84Z" fill="#7cb84a"/>
<text transform="translate(218.6,399.4) rotate(-18)" font-size="4" fill="#333" textLength="20.5" lengthAdjust="spacingAndGlyphs">Proteolysis</text>
<path d="M128,347.5 C118,362 108,385 106,405 C104,430 103,455 101.6,472.5" fill="none" stroke="#7cb84a" stroke-width="0.9"/>
<path d="M101.20,476.60 L99.67,472.25 L103.46,472.58Z" fill="#7cb84a"/>
<text transform="translate(113.2,362.5) rotate(-62)" font-size="4.2" fill="#333">HH+</text>
<path d="M248,386.5 C244,405 240,425 236.5,438" fill="none" stroke="#7cb84a" stroke-width="0.9"/>
<path d="M236.00,442.30 L234.86,437.83 L238.60,438.49Z" fill="#7cb84a"/>
<path d="M250,386.5 C256,410 262,445 255,462 C240,470 220,471 206,471.8" fill="none" stroke="#7cb84a" stroke-width="0.9"/>
<path d="M201.50,471.90 L205.70,470.00 L205.70,473.80Z" fill="#7cb84a"/>
<path d="M164,376.3 L116.7,376.3 L116.7,478" fill="none" stroke="#cc604c" stroke-width="0.9"/>
<line x1="114.5" y1="480.4" x2="119" y2="480.4" stroke="#cc604c" stroke-width="1"/>
<line x1="116.7" y1="478" x2="116.7" y2="480.4" stroke="#cc604c" stroke-width="0.9"/>
<ellipse cx="52.8" cy="396.2" rx="12.3" ry="4" fill="#f2d84a" stroke="none" stroke-width="0.4"/>
<text x="52.8" y="398.00" font-size="5" fill="#3a3a2a" text-anchor="middle" font-weight="normal">EZH2</text>
<ellipse cx="85.4" cy="395.7" rx="11.8" ry="4.1" fill="#e0982f" stroke="none" stroke-width="0.4"/>
<text x="85.4" y="397.36" font-size="4.6" fill="#4a2808" text-anchor="middle" font-weight="normal">SWI/SNF</text>
<line x1="65" y1="396" x2="73" y2="396" stroke="#cc604c" stroke-width="0.9"/><line x1="73.2" y1="393.8" x2="73.2" y2="398.2" stroke="#cc604c" stroke-width="1"/>
<path d="M86,400.4 L94.5,478" fill="none" stroke="#cc604c" stroke-width="0.9"/><line x1="92.2" y1="478.4" x2="96.8" y2="477.8" stroke="#cc604c" stroke-width="1"/>
<ellipse cx="34.6" cy="420.8" rx="9.2" ry="4.8" fill="url(#wht)" stroke="none" stroke-width="0.4"/>
<text x="34.6" y="422.46" font-size="4.6" fill="#445" text-anchor="middle" font-weight="normal">p63</text>
<rect x="13" y="426" width="41.80" height="12.70" rx="6.35" fill="#f6e48a" stroke="#555" stroke-width="0.5"/>
<text x="34" y="430.4" font-size="3.5" fill="#444" text-anchor="middle">GLI2, PTCH1,</text><text x="34" y="434.3" font-size="3.5" fill="#444" text-anchor="middle">Shh, Ihh</text><text x="34" y="438.1" font-size="3.5" fill="#444" text-anchor="middle">promoters</text>
<path d="M96,478 C93,455 82,420 68,416 C60,414 54,418 50,420.5" fill="none" stroke="#7cb84a" stroke-width="0.9"/>
<path d="M46.00,421.00 L50.47,419.86 L49.81,423.60Z" fill="#7cb84a"/>
<line x1="54.8" y1="432.7" x2="65.5" y2="432.7" stroke="#6a7080" stroke-width="0.8"/>
<path d="M65.5,432.7 L78,452 C82,459 84.5,466 86.3,472.6" fill="none" stroke="#7cb84a" stroke-width="0.9"/>
<path d="M87.40,476.50 L84.30,473.09 L87.91,471.92Z" fill="#7cb84a"/>
<path d="M33,456.8 L54,456.8 Q56.3,456.8 56.3,459.5 L56.3,462 Q56.3,464.9 53,464.9 L34,464.9 Q31,464.9 31,461 Q31,456.8 33,456.8Z" fill="#68a83e"/>
<text x="43.6" y="462.6" font-size="4.6" fill="#2a4a1a" text-anchor="middle">SIRT1</text>
<ellipse cx="46" cy="469" rx="12.5" ry="4.3" fill="url(#wht)" stroke="none" stroke-width="0.4"/>
<text x="46" y="470.66" font-size="4.6" fill="#445" text-anchor="middle" font-weight="normal">BCOR</text>
<ellipse cx="40.6" cy="476" rx="13" ry="3.8" fill="#f0ae4e" stroke="none" stroke-width="0.4"/>
<text x="40.6" y="477.66" font-size="4.6" fill="#553010" text-anchor="middle" font-weight="normal">BCL6</text>
<rect x="24.2" y="480.4" width="32.30" height="8.70" rx="4.35" fill="#f8e58a" stroke="#4a4a3a" stroke-width="0.5"/>
<text x="40.35" y="486.35" font-size="3.9" fill="#333" text-anchor="middle">GLI1,2 promoter</text>
<line x1="56.5" y1="484.8" x2="83.4" y2="484.8" stroke="#cc604c" stroke-width="0.9"/><line x1="83.7" y1="482.4" x2="83.7" y2="487.2" stroke="#cc604c" stroke-width="1"/>
<path d="M132,403 C130,396 142,394 146,398 C150,394 160,395 162,400 C168,398 172,404 168,409 C173,412 172,420 166,421 C168,428 160,432 154,428 C150,433 140,432 138,428 C132,431 125,427 127,421 C122,418 123,411 128,410 C125,406 128,403 132,403Z" fill="#dde8ec"/>
<ellipse cx="146.2" cy="406.1" rx="14.5" ry="3.4" fill="#a6cce8" stroke="none" stroke-width="0.4"/>
<text x="146.2" y="407.72" font-size="4.5" fill="#1a1a1a" text-anchor="middle" font-weight="normal">MED13</text>
<ellipse cx="137.9" cy="413.7" rx="10.5" ry="4" fill="#a6cce8" stroke="none" stroke-width="0.4"/>
<text x="137.9" y="415.32" font-size="4.5" fill="#1a1a1a" text-anchor="middle" font-weight="normal">CycC</text>
<ellipse cx="156" cy="414.4" rx="13.5" ry="4" fill="#a6cce8" stroke="none" stroke-width="0.4"/>
<text x="156" y="416.02" font-size="4.5" fill="#1a1a1a" text-anchor="middle" font-weight="normal">MED12</text>
<ellipse cx="138.8" cy="421.7" rx="10.5" ry="4" fill="#a6cce8" stroke="none" stroke-width="0.4"/>
<text x="138.8" y="423.28" font-size="4.4" fill="#1a1a1a" text-anchor="middle" font-weight="normal">CDK8</text>
<path d="M128.5,420.8 L122.5,420.8 L122.5,478" fill="none" stroke="#cc604c" stroke-width="0.9"/><line x1="120.2" y1="480.4" x2="124.8" y2="480.4" stroke="#cc604c" stroke-width="1"/><line x1="122.5" y1="478" x2="122.5" y2="480.4" stroke="#cc604c" stroke-width="0.9"/>
<path d="M161,420.8 L177.5,469" fill="none" stroke="#cc604c" stroke-width="0.9" stroke-dasharray="2.4 1.6"/><line x1="159" y1="421.2" x2="163" y2="420" stroke="#cc604c" stroke-width="1"/>
<ellipse cx="191.3" cy="429.5" rx="12.5" ry="4.6" fill="#72b4c2" stroke="none" stroke-width="0.4"/>
<text x="191.3" y="431.30" font-size="5" fill="#2a4a50" text-anchor="middle" font-weight="normal">EP300</text>
<ellipse cx="219.2" cy="427" rx="12" ry="5" fill="#5a82c0" stroke="none" stroke-width="0.4"/>
<text x="219.2" y="428.76" font-size="4.9" fill="#1e3a6a" text-anchor="middle" font-weight="normal">CREBBP</text>
<path d="M193,433.8 L205.5,442.5" fill="none" stroke="#7cb84a" stroke-width="0.9"/>
<path d="M208.50,444.60 L203.97,443.75 L206.15,440.63Z" fill="#7cb84a"/>
<path d="M220,432.3 L215.3,441.5" fill="none" stroke="#7cb84a" stroke-width="0.9"/>
<path d="M213.80,444.60 L214.01,440.00 L217.40,441.72Z" fill="#7cb84a"/>
<path d="M217,447.4 C213,445 208,446.5 205,448.8" fill="none" stroke="#7cb84a" stroke-width="0.9"/>
<path d="M201.50,450.20 L204.80,446.98 L206.10,450.55Z" fill="#7cb84a"/>
<ellipse cx="191.7" cy="448.2" rx="11" ry="5.4" fill="url(#wht)" stroke="none" stroke-width="0.4"/>
<text x="191.7" y="449.93" font-size="4.8" fill="#3a3a44" text-anchor="middle" font-weight="normal">GLI2</text>
<ellipse cx="184.6" cy="442.8" rx="3.7" ry="3.3" fill="#f2c252" stroke="#6a5a3a" stroke-width="0.5"/>
<text x="184.6" y="443.95" font-size="3.2" fill="#443" text-anchor="middle" font-weight="normal">Ac</text>
<ellipse cx="229" cy="448.8" rx="12" ry="5.5" fill="url(#wht)" stroke="none" stroke-width="0.4"/>
<text x="229" y="450.53" font-size="4.8" fill="#3a3a44" text-anchor="middle" font-weight="normal">GLI2<tspan font-size="3">Ac</tspan></text>
<ellipse cx="190.7" cy="466" rx="12.5" ry="5" fill="#5a82c0" stroke="none" stroke-width="0.4"/>
<text x="190.7" y="467.76" font-size="4.9" fill="#1e3a6a" text-anchor="middle" font-weight="normal">CREBBP</text>
<ellipse cx="188.7" cy="474.8" rx="12.5" ry="5.5" fill="url(#wht)" stroke="none" stroke-width="0.4"/>
<text x="188.7" y="476.46" font-size="4.6" fill="#3a3a44" text-anchor="middle" font-weight="normal">GLI2,3<tspan font-size="3">Ac</tspan></text>
<rect x="174" y="480.7" width="29.00" height="7.50" rx="3.75" fill="#f8e07a" stroke="#4a4a3a" stroke-width="0.5"/>
<text x="188.50" y="486.05" font-size="3.8" fill="#333" text-anchor="middle">GLI1 promoter</text>
<path d="M174,484.5 L110,484.5" stroke="#7cb84a" stroke-width="0.9"/><path d="M106.5,484.6 L111,482.6 L111,486.6Z" fill="#7cb84a"/>
<ellipse cx="96.2" cy="483.8" rx="12" ry="5.6" fill="url(#cyan)" stroke="#9cc2cc" stroke-width="0.4"/>
<text x="96.2" y="485.67" font-size="5.2" fill="#2a2a2a" text-anchor="middle" font-weight="normal">GLI1,2</text>
<line x1="79.50" y1="494.20" x2="79.50" y2="496.90" stroke="#d04a3a" stroke-width="0.7" opacity="0.85"/><line x1="81.30" y1="496.97" x2="81.30" y2="494.12" stroke="#3a6ac8" stroke-width="0.7" opacity="0.85"/><line x1="83.10" y1="498.62" x2="83.10" y2="491.36" stroke="#e8c040" stroke-width="0.7" opacity="0.85"/><line x1="84.90" y1="498.49" x2="84.90" y2="489.75" stroke="#5aa84a" stroke-width="0.7" opacity="0.85"/><line x1="86.70" y1="496.63" x2="86.70" y2="489.94" stroke="#c06060" stroke-width="0.7" opacity="0.85"/><line x1="88.50" y1="493.79" x2="88.50" y2="491.84" stroke="#40a0c0" stroke-width="0.7" opacity="0.85"/><line x1="90.30" y1="491.11" x2="90.30" y2="494.69" stroke="#d04a3a" stroke-width="0.7" opacity="0.85"/><line x1="92.10" y1="489.68" x2="92.10" y2="497.35" stroke="#3a6ac8" stroke-width="0.7" opacity="0.85"/><line x1="93.90" y1="490.07" x2="93.90" y2="498.73" stroke="#e8c040" stroke-width="0.7" opacity="0.85"/><line x1="95.70" y1="492.13" x2="95.70" y2="498.29" stroke="#5aa84a" stroke-width="0.7" opacity="0.85"/><line x1="97.50" y1="495.02" x2="97.50" y2="496.20" stroke="#c06060" stroke-width="0.7" opacity="0.85"/><line x1="99.30" y1="497.58" x2="99.30" y2="493.30" stroke="#40a0c0" stroke-width="0.7" opacity="0.85"/><line x1="101.10" y1="498.78" x2="101.10" y2="490.76" stroke="#d04a3a" stroke-width="0.7" opacity="0.85"/><line x1="102.90" y1="498.13" x2="102.90" y2="489.62" stroke="#3a6ac8" stroke-width="0.7" opacity="0.85"/><line x1="104.70" y1="495.89" x2="104.70" y2="490.32" stroke="#e8c040" stroke-width="0.7" opacity="0.85"/><line x1="106.50" y1="492.98" x2="106.50" y2="492.58" stroke="#5aa84a" stroke-width="0.7" opacity="0.85"/><line x1="108.30" y1="490.55" x2="108.30" y2="495.50" stroke="#c06060" stroke-width="0.7" opacity="0.85"/><line x1="110.10" y1="489.60" x2="110.10" y2="497.90" stroke="#40a0c0" stroke-width="0.7" opacity="0.85"/><line x1="111.90" y1="490.50" x2="111.90" y2="498.80" stroke="#d04a3a" stroke-width="0.7" opacity="0.85"/><line x1="113.70" y1="492.90" x2="113.70" y2="497.85" stroke="#3a6ac8" stroke-width="0.7" opacity="0.85"/><line x1="115.50" y1="495.82" x2="115.50" y2="495.42" stroke="#e8c040" stroke-width="0.7" opacity="0.85"/><line x1="117.30" y1="498.08" x2="117.30" y2="492.51" stroke="#5aa84a" stroke-width="0.7" opacity="0.85"/><line x1="119.10" y1="498.78" x2="119.10" y2="490.27" stroke="#c06060" stroke-width="0.7" opacity="0.85"/><line x1="120.90" y1="497.64" x2="120.90" y2="489.62" stroke="#40a0c0" stroke-width="0.7" opacity="0.85"/><line x1="122.70" y1="495.10" x2="122.70" y2="490.82" stroke="#d04a3a" stroke-width="0.7" opacity="0.85"/><line x1="124.50" y1="492.20" x2="124.50" y2="493.38" stroke="#3a6ac8" stroke-width="0.7" opacity="0.85"/><line x1="126.30" y1="490.11" x2="126.30" y2="496.27" stroke="#e8c040" stroke-width="0.7" opacity="0.85"/><line x1="128.10" y1="489.67" x2="128.10" y2="498.33" stroke="#5aa84a" stroke-width="0.7" opacity="0.85"/><line x1="129.90" y1="491.05" x2="129.90" y2="498.72" stroke="#c06060" stroke-width="0.7" opacity="0.85"/><line x1="131.70" y1="493.71" x2="131.70" y2="497.29" stroke="#40a0c0" stroke-width="0.7" opacity="0.85"/><line x1="133.50" y1="496.56" x2="133.50" y2="494.61" stroke="#d04a3a" stroke-width="0.7" opacity="0.85"/>
<path d="M79.50,494.20 L80.00,495.02 L80.50,495.82 L81.00,496.56 L81.50,497.23 L82.00,497.80 L82.50,498.25 L83.00,498.57 L83.50,498.76 L84.00,498.80 L84.50,498.68 L85.00,498.43 L85.50,498.04 L86.00,497.52 L86.50,496.90 L87.00,496.20 L87.50,495.42 L88.00,494.61 L88.50,493.79 L89.00,492.98 L89.50,492.20 L90.00,491.50 L90.50,490.88 L91.00,490.36 L91.50,489.97 L92.00,489.72 L92.50,489.60 L93.00,489.64 L93.50,489.83 L94.00,490.15 L94.50,490.60 L95.00,491.17 L95.50,491.84 L96.00,492.58 L96.50,493.38 L97.00,494.20 L97.50,495.02 L98.00,495.82 L98.50,496.56 L99.00,497.23 L99.50,497.80 L100.00,498.25 L100.50,498.57 L101.00,498.76 L101.50,498.80 L102.00,498.68 L102.50,498.43 L103.00,498.04 L103.50,497.52 L104.00,496.90 L104.50,496.20 L105.00,495.42 L105.50,494.61 L106.00,493.79 L106.50,492.98 L107.00,492.20 L107.50,491.50 L108.00,490.88 L108.50,490.36 L109.00,489.97 L109.50,489.72 L110.00,489.60 L110.50,489.64 L111.00,489.83 L111.50,490.15 L112.00,490.60 L112.50,491.17 L113.00,491.84 L113.50,492.58 L114.00,493.38 L114.50,494.20 L115.00,495.02 L115.50,495.82 L116.00,496.56 L116.50,497.23 L117.00,497.80 L117.50,498.25 L118.00,498.57 L118.50,498.76 L119.00,498.80 L119.50,498.68 L120.00,498.43 L120.50,498.04 L121.00,497.52 L121.50,496.90 L122.00,496.20 L122.50,495.42 L123.00,494.61 L123.50,493.79 L124.00,492.98 L124.50,492.20 L125.00,491.50 L125.50,490.88 L126.00,490.36 L126.50,489.97 L127.00,489.72 L127.50,489.60 L128.00,489.64 L128.50,489.83 L129.00,490.15 L129.50,490.60 L130.00,491.17 L130.50,491.84 L131.00,492.58 L131.50,493.38 L132.00,494.20 L132.50,495.02 L133.00,495.82 L133.50,496.56 L134.00,497.23 L134.50,497.80 L135.00,498.25" fill="none" stroke="#4a4a55" stroke-width="1.9"/>
<path d="M79.50,494.20 L80.00,495.02 L80.50,495.82 L81.00,496.56 L81.50,497.23 L82.00,497.80 L82.50,498.25 L83.00,498.57 L83.50,498.76 L84.00,498.80 L84.50,498.68 L85.00,498.43 L85.50,498.04 L86.00,497.52 L86.50,496.90 L87.00,496.20 L87.50,495.42 L88.00,494.61 L88.50,493.79 L89.00,492.98 L89.50,492.20 L90.00,491.50 L90.50,490.88 L91.00,490.36 L91.50,489.97 L92.00,489.72 L92.50,489.60 L93.00,489.64 L93.50,489.83 L94.00,490.15 L94.50,490.60 L95.00,491.17 L95.50,491.84 L96.00,492.58 L96.50,493.38 L97.00,494.20 L97.50,495.02 L98.00,495.82 L98.50,496.56 L99.00,497.23 L99.50,497.80 L100.00,498.25 L100.50,498.57 L101.00,498.76 L101.50,498.80 L102.00,498.68 L102.50,498.43 L103.00,498.04 L103.50,497.52 L104.00,496.90 L104.50,496.20 L105.00,495.42 L105.50,494.61 L106.00,493.79 L106.50,492.98 L107.00,492.20 L107.50,491.50 L108.00,490.88 L108.50,490.36 L109.00,489.97 L109.50,489.72 L110.00,489.60 L110.50,489.64 L111.00,489.83 L111.50,490.15 L112.00,490.60 L112.50,491.17 L113.00,491.84 L113.50,492.58 L114.00,493.38 L114.50,494.20 L115.00,495.02 L115.50,495.82 L116.00,496.56 L116.50,497.23 L117.00,497.80 L117.50,498.25 L118.00,498.57 L118.50,498.76 L119.00,498.80 L119.50,498.68 L120.00,498.43 L120.50,498.04 L121.00,497.52 L121.50,496.90 L122.00,496.20 L122.50,495.42 L123.00,494.61 L123.50,493.79 L124.00,492.98 L124.50,492.20 L125.00,491.50 L125.50,490.88 L126.00,490.36 L126.50,489.97 L127.00,489.72 L127.50,489.60 L128.00,489.64 L128.50,489.83 L129.00,490.15 L129.50,490.60 L130.00,491.17 L130.50,491.84 L131.00,492.58 L131.50,493.38 L132.00,494.20 L132.50,495.02 L133.00,495.82 L133.50,496.56 L134.00,497.23 L134.50,497.80 L135.00,498.25" fill="none" stroke="#eef0f4" stroke-width="1.0"/>
<path d="M79.50,496.90 L80.00,496.20 L80.50,495.42 L81.00,494.61 L81.50,493.79 L82.00,492.98 L82.50,492.20 L83.00,491.50 L83.50,490.88 L84.00,490.36 L84.50,489.97 L85.00,489.72 L85.50,489.60 L86.00,489.64 L86.50,489.83 L87.00,490.15 L87.50,490.60 L88.00,491.17 L88.50,491.84 L89.00,492.58 L89.50,493.38 L90.00,494.20 L90.50,495.02 L91.00,495.82 L91.50,496.56 L92.00,497.23 L92.50,497.80 L93.00,498.25 L93.50,498.57 L94.00,498.76 L94.50,498.80 L95.00,498.68 L95.50,498.43 L96.00,498.04 L96.50,497.52 L97.00,496.90 L97.50,496.20 L98.00,495.42 L98.50,494.61 L99.00,493.79 L99.50,492.98 L100.00,492.20 L100.50,491.50 L101.00,490.88 L101.50,490.36 L102.00,489.97 L102.50,489.72 L103.00,489.60 L103.50,489.64 L104.00,489.83 L104.50,490.15 L105.00,490.60 L105.50,491.17 L106.00,491.84 L106.50,492.58 L107.00,493.38 L107.50,494.20 L108.00,495.02 L108.50,495.82 L109.00,496.56 L109.50,497.23 L110.00,497.80 L110.50,498.25 L111.00,498.57 L111.50,498.76 L112.00,498.80 L112.50,498.68 L113.00,498.43 L113.50,498.04 L114.00,497.52 L114.50,496.90 L115.00,496.20 L115.50,495.42 L116.00,494.61 L116.50,493.79 L117.00,492.98 L117.50,492.20 L118.00,491.50 L118.50,490.88 L119.00,490.36 L119.50,489.97 L120.00,489.72 L120.50,489.60 L121.00,489.64 L121.50,489.83 L122.00,490.15 L122.50,490.60 L123.00,491.17 L123.50,491.84 L124.00,492.58 L124.50,493.38 L125.00,494.20 L125.50,495.02 L126.00,495.82 L126.50,496.56 L127.00,497.23 L127.50,497.80 L128.00,498.25 L128.50,498.57 L129.00,498.76 L129.50,498.80 L130.00,498.68 L130.50,498.43 L131.00,498.04 L131.50,497.52 L132.00,496.90 L132.50,496.20 L133.00,495.42 L133.50,494.61 L134.00,493.79 L134.50,492.98 L135.00,492.20" fill="none" stroke="#4a4a55" stroke-width="1.9"/>
<path d="M79.50,496.90 L80.00,496.20 L80.50,495.42 L81.00,494.61 L81.50,493.79 L82.00,492.98 L82.50,492.20 L83.00,491.50 L83.50,490.88 L84.00,490.36 L84.50,489.97 L85.00,489.72 L85.50,489.60 L86.00,489.64 L86.50,489.83 L87.00,490.15 L87.50,490.60 L88.00,491.17 L88.50,491.84 L89.00,492.58 L89.50,493.38 L90.00,494.20 L90.50,495.02 L91.00,495.82 L91.50,496.56 L92.00,497.23 L92.50,497.80 L93.00,498.25 L93.50,498.57 L94.00,498.76 L94.50,498.80 L95.00,498.68 L95.50,498.43 L96.00,498.04 L96.50,497.52 L97.00,496.90 L97.50,496.20 L98.00,495.42 L98.50,494.61 L99.00,493.79 L99.50,492.98 L100.00,492.20 L100.50,491.50 L101.00,490.88 L101.50,490.36 L102.00,489.97 L102.50,489.72 L103.00,489.60 L103.50,489.64 L104.00,489.83 L104.50,490.15 L105.00,490.60 L105.50,491.17 L106.00,491.84 L106.50,492.58 L107.00,493.38 L107.50,494.20 L108.00,495.02 L108.50,495.82 L109.00,496.56 L109.50,497.23 L110.00,497.80 L110.50,498.25 L111.00,498.57 L111.50,498.76 L112.00,498.80 L112.50,498.68 L113.00,498.43 L113.50,498.04 L114.00,497.52 L114.50,496.90 L115.00,496.20 L115.50,495.42 L116.00,494.61 L116.50,493.79 L117.00,492.98 L117.50,492.20 L118.00,491.50 L118.50,490.88 L119.00,490.36 L119.50,489.97 L120.00,489.72 L120.50,489.60 L121.00,489.64 L121.50,489.83 L122.00,490.15 L122.50,490.60 L123.00,491.17 L123.50,491.84 L124.00,492.58 L124.50,493.38 L125.00,494.20 L125.50,495.02 L126.00,495.82 L126.50,496.56 L127.00,497.23 L127.50,497.80 L128.00,498.25 L128.50,498.57 L129.00,498.76 L129.50,498.80 L130.00,498.68 L130.50,498.43 L131.00,498.04 L131.50,497.52 L132.00,496.90 L132.50,496.20 L133.00,495.42 L133.50,494.61 L134.00,493.79 L134.50,492.98 L135.00,492.20" fill="none" stroke="#eef0f4" stroke-width="1.0"/>
<rect x="135.8" y="492.8" width="48.4" height="6.7" fill="#dadde5"/>
<text x="145.2" y="497.9" font-size="5" fill="#222" textLength="30" lengthAdjust="spacingAndGlyphs">Target Genes</text>
<path d="M96,492 L140,496.5" fill="none" stroke="#7cb84a" stroke-width="0.9"/>
<path d="M144.00,496.70 L139.68,498.30 L139.94,494.51Z" fill="#7cb84a"/>
<rect x="0" y="0" width="520" height="1.5" fill="#404040"/>
<rect x="0" y="0" width="1.5" height="508" fill="#404040"/>
<rect x="519" y="0" width="1" height="508" fill="#111"/>
<rect x="0" y="506" width="520" height="1" fill="#9a9a9a"/>
<rect x="0" y="507" width="520" height="1" fill="#444"/>
</svg></body></html>
